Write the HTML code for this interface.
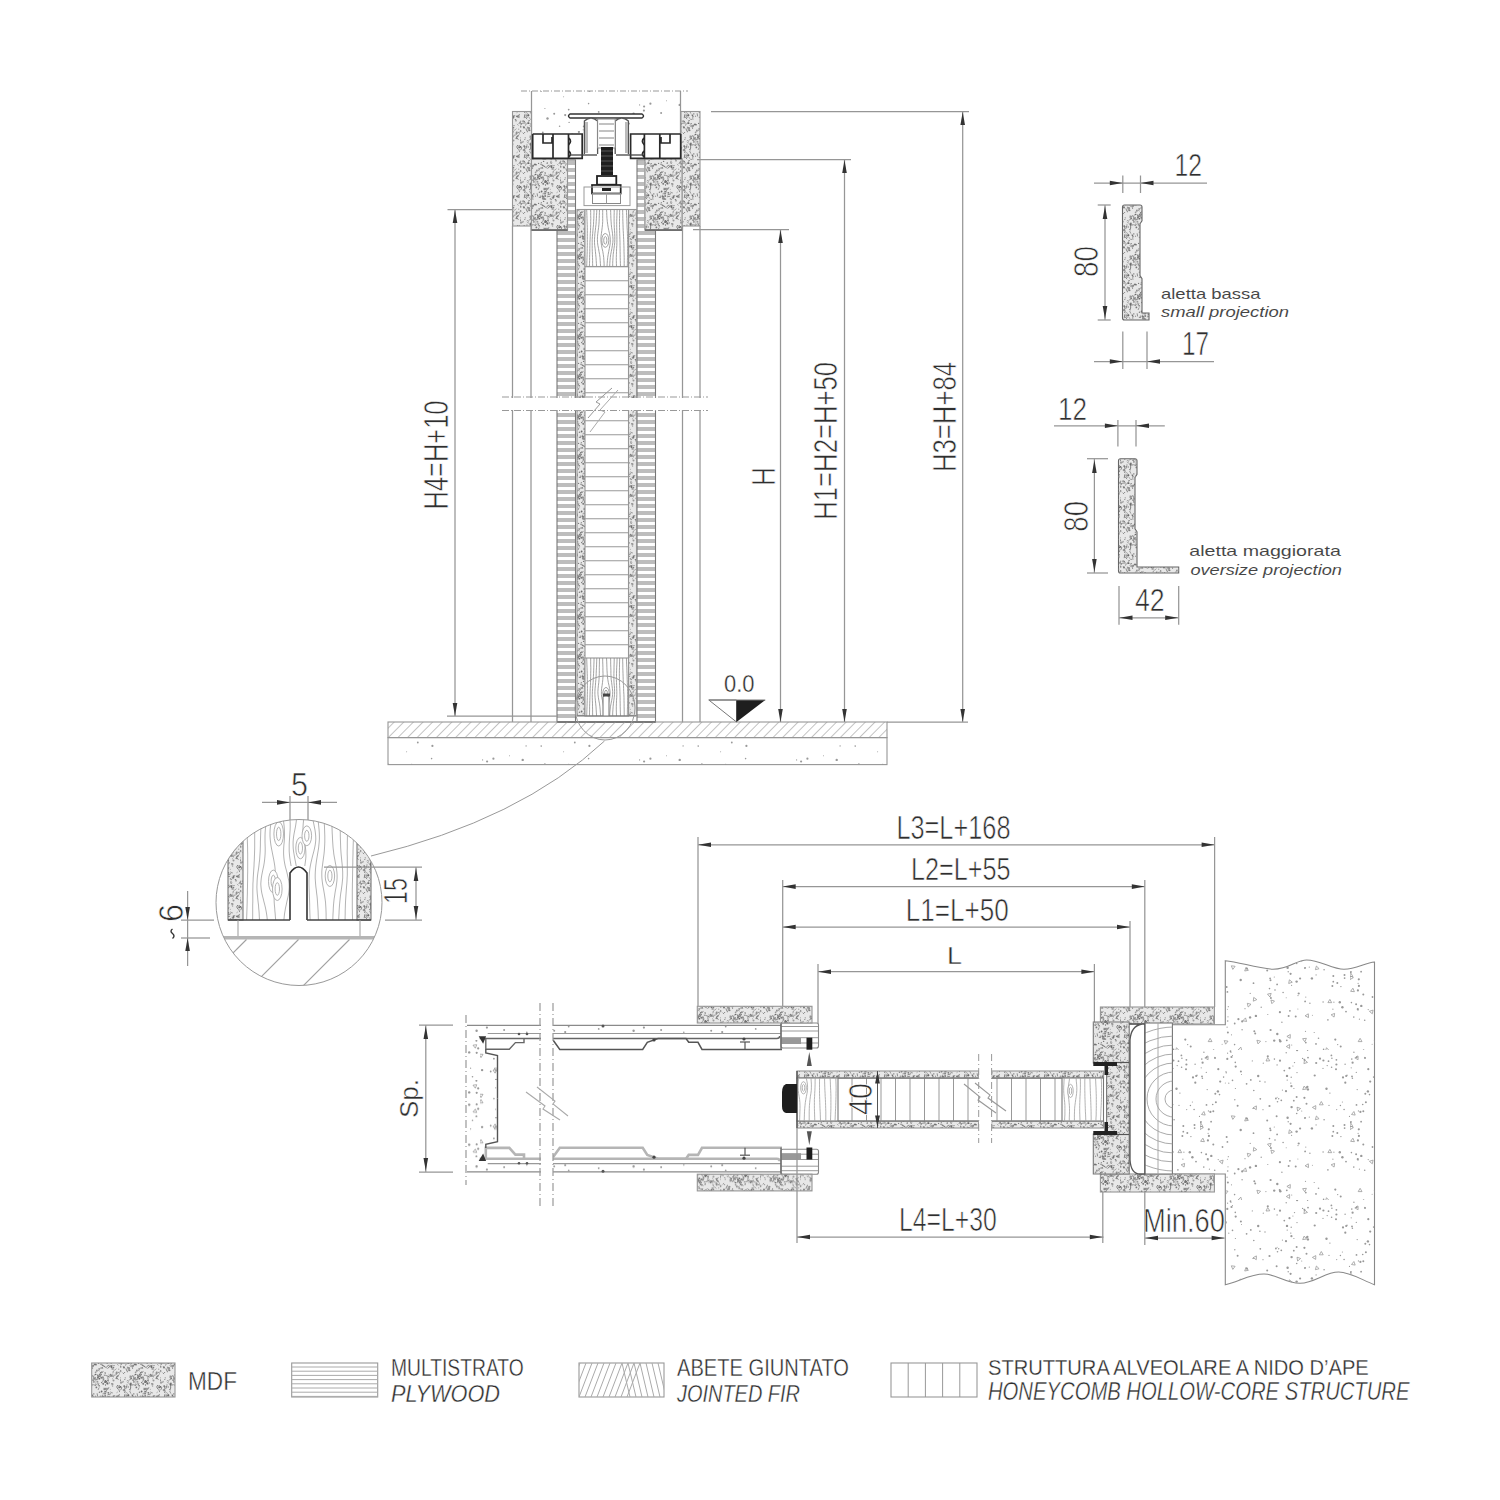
<!DOCTYPE html>
<html><head><meta charset="utf-8"><title>Sliding door technical drawing</title>
<style>html,body{margin:0;padding:0;background:#fff;width:1500px;height:1500px;overflow:hidden}svg{display:block}text{font-family:"Liberation Sans",sans-serif}</style>
</head><body>
<svg width="1500" height="1500" viewBox="0 0 1500 1500" font-family="Liberation Sans, sans-serif">
<defs>
<pattern id="mdf" patternUnits="userSpaceOnUse" width="40" height="40"><line x1="5.4" y1="33.9" x2="7.9" y2="36.2" stroke="#999" stroke-width="0.8"/><circle cx="18.9" cy="15.2" r="0.5" fill="#777"/><line x1="33.4" y1="17.3" x2="32.7" y2="15.3" stroke="#6a6a6a" stroke-width="0.8"/><circle cx="32.1" cy="23.6" r="0.5" fill="#999"/><line x1="1.0" y1="21.7" x2="-0.5" y2="18.0" stroke="#777" stroke-width="0.8"/><line x1="29.0" y1="21.1" x2="26.8" y2="20.3" stroke="#777" stroke-width="0.8"/><line x1="27.1" y1="30.4" x2="23.8" y2="32.3" stroke="#6a6a6a" stroke-width="0.8"/><line x1="36.9" y1="4.0" x2="38.6" y2="5.6" stroke="#999" stroke-width="0.8"/><line x1="28.9" y1="28.4" x2="25.1" y2="28.3" stroke="#777" stroke-width="0.8"/><line x1="7.6" y1="11.4" x2="9.2" y2="9.1" stroke="#777" stroke-width="0.8"/><circle cx="23.6" cy="1.4" r="0.7" fill="#777"/><line x1="6.9" y1="22.0" x2="9.6" y2="23.6" stroke="#999" stroke-width="0.8"/><line x1="4.3" y1="6.5" x2="2.7" y2="6.7" stroke="#999" stroke-width="0.8"/><line x1="1.7" y1="28.1" x2="0.6" y2="26.6" stroke="#777" stroke-width="0.8"/><circle cx="9.1" cy="0.5" r="0.7" fill="#808080"/><circle cx="13.8" cy="33.9" r="0.8" fill="#999"/><circle cx="24.4" cy="29.2" r="0.8" fill="#808080"/><circle cx="22.5" cy="17.0" r="0.8" fill="#999"/><line x1="8.0" y1="20.2" x2="6.7" y2="21.0" stroke="#999" stroke-width="0.8"/><circle cx="21.6" cy="31.5" r="0.9" fill="#6a6a6a"/><circle cx="25.4" cy="22.0" r="0.9" fill="#6a6a6a"/><circle cx="31.9" cy="32.7" r="0.5" fill="#6a6a6a"/><line x1="0.7" y1="0.6" x2="0.3" y2="4.1" stroke="#808080" stroke-width="0.8"/><circle cx="7.4" cy="11.6" r="0.8" fill="#999"/><line x1="6.7" y1="10.9" x2="5.9" y2="8.3" stroke="#777" stroke-width="0.8"/><circle cx="4.6" cy="12.5" r="0.6" fill="#808080"/><line x1="10.1" y1="29.2" x2="10.8" y2="27.8" stroke="#777" stroke-width="0.8"/><line x1="0.7" y1="5.9" x2="-1.9" y2="6.8" stroke="#808080" stroke-width="0.8"/><line x1="17.1" y1="33.3" x2="17.6" y2="36.4" stroke="#777" stroke-width="0.8"/><circle cx="15.8" cy="23.0" r="0.5" fill="#777"/><line x1="11.9" y1="38.7" x2="13.5" y2="39.4" stroke="#999" stroke-width="0.8"/><circle cx="36.7" cy="11.9" r="0.6" fill="#999"/><line x1="22.4" y1="34.0" x2="25.3" y2="33.3" stroke="#808080" stroke-width="0.8"/><line x1="6.9" y1="34.7" x2="5.2" y2="36.4" stroke="#6a6a6a" stroke-width="0.8"/><circle cx="8.2" cy="27.0" r="0.7" fill="#808080"/><line x1="37.5" y1="15.6" x2="35.8" y2="18.9" stroke="#6a6a6a" stroke-width="0.8"/><circle cx="36.0" cy="0.7" r="0.9" fill="#999"/><circle cx="22.5" cy="5.4" r="0.8" fill="#999"/><circle cx="33.5" cy="37.3" r="0.9" fill="#777"/><circle cx="21.3" cy="2.6" r="0.6" fill="#808080"/><line x1="36.4" y1="8.5" x2="34.9" y2="10.3" stroke="#999" stroke-width="0.8"/><line x1="11.6" y1="34.7" x2="13.5" y2="36.9" stroke="#777" stroke-width="0.8"/><circle cx="4.2" cy="1.6" r="0.9" fill="#808080"/><line x1="13.6" y1="24.6" x2="16.2" y2="25.9" stroke="#777" stroke-width="0.8"/><circle cx="22.6" cy="38.1" r="0.8" fill="#999"/><circle cx="37.0" cy="18.3" r="0.9" fill="#6a6a6a"/><circle cx="0.5" cy="26.8" r="0.9" fill="#6a6a6a"/><line x1="31.6" y1="7.5" x2="33.0" y2="9.8" stroke="#777" stroke-width="0.8"/><line x1="27.2" y1="6.4" x2="29.3" y2="5.1" stroke="#777" stroke-width="0.8"/><circle cx="38.8" cy="36.4" r="0.9" fill="#999"/><circle cx="12.6" cy="8.3" r="0.5" fill="#6a6a6a"/><line x1="39.3" y1="11.8" x2="37.4" y2="13.4" stroke="#777" stroke-width="0.8"/><line x1="2.6" y1="12.7" x2="4.1" y2="14.0" stroke="#777" stroke-width="0.8"/><line x1="24.7" y1="39.2" x2="23.6" y2="37.4" stroke="#777" stroke-width="0.8"/><circle cx="21.7" cy="12.3" r="0.9" fill="#6a6a6a"/><circle cx="3.6" cy="30.1" r="1.0" fill="#999"/><circle cx="15.6" cy="12.3" r="0.9" fill="#999"/><circle cx="23.2" cy="36.9" r="0.8" fill="#6a6a6a"/><circle cx="23.2" cy="23.8" r="0.9" fill="#6a6a6a"/><line x1="16.1" y1="10.7" x2="17.6" y2="10.9" stroke="#6a6a6a" stroke-width="0.8"/><line x1="30.0" y1="14.4" x2="32.8" y2="16.4" stroke="#808080" stroke-width="0.8"/><line x1="13.1" y1="20.4" x2="13.8" y2="16.5" stroke="#808080" stroke-width="0.8"/><circle cx="32.9" cy="12.8" r="0.6" fill="#999"/><line x1="8.3" y1="21.8" x2="9.6" y2="19.1" stroke="#999" stroke-width="0.8"/><line x1="26.9" y1="22.1" x2="28.0" y2="24.4" stroke="#808080" stroke-width="0.8"/><line x1="6.3" y1="28.6" x2="6.9" y2="25.4" stroke="#999" stroke-width="0.8"/><circle cx="17.9" cy="17.2" r="0.9" fill="#777"/><circle cx="18.1" cy="15.8" r="0.7" fill="#999"/><line x1="31.7" y1="37.3" x2="33.9" y2="38.2" stroke="#6a6a6a" stroke-width="0.8"/><circle cx="5.5" cy="5.0" r="0.7" fill="#999"/><circle cx="16.0" cy="24.5" r="0.6" fill="#6a6a6a"/><line x1="12.7" y1="35.7" x2="12.9" y2="38.5" stroke="#808080" stroke-width="0.8"/><circle cx="19.2" cy="9.0" r="1.0" fill="#999"/><line x1="8.8" y1="36.9" x2="10.6" y2="39.7" stroke="#999" stroke-width="0.8"/><line x1="35.3" y1="12.5" x2="37.0" y2="15.3" stroke="#999" stroke-width="0.8"/><circle cx="18.6" cy="3.4" r="0.6" fill="#777"/><line x1="10.0" y1="8.7" x2="7.5" y2="8.8" stroke="#6a6a6a" stroke-width="0.8"/><line x1="25.5" y1="15.4" x2="23.8" y2="15.1" stroke="#6a6a6a" stroke-width="0.8"/><line x1="10.2" y1="4.0" x2="12.0" y2="3.6" stroke="#6a6a6a" stroke-width="0.8"/><line x1="31.0" y1="33.7" x2="27.4" y2="35.0" stroke="#6a6a6a" stroke-width="0.8"/><line x1="38.8" y1="15.3" x2="35.8" y2="17.6" stroke="#777" stroke-width="0.8"/><line x1="17.5" y1="24.9" x2="19.7" y2="26.9" stroke="#808080" stroke-width="0.8"/><circle cx="16.3" cy="4.7" r="0.7" fill="#808080"/><line x1="22.4" y1="38.4" x2="26.2" y2="39.1" stroke="#6a6a6a" stroke-width="0.8"/><circle cx="9.7" cy="10.4" r="0.8" fill="#808080"/><circle cx="10.9" cy="23.4" r="0.9" fill="#777"/><line x1="32.3" y1="38.9" x2="30.8" y2="39.8" stroke="#777" stroke-width="0.8"/><circle cx="8.4" cy="35.2" r="1.0" fill="#6a6a6a"/><circle cx="1.0" cy="22.8" r="1.0" fill="#999"/><circle cx="30.4" cy="38.9" r="0.8" fill="#999"/><circle cx="12.5" cy="20.1" r="0.5" fill="#999"/><circle cx="17.7" cy="18.0" r="0.7" fill="#777"/><circle cx="29.2" cy="22.9" r="0.7" fill="#777"/><line x1="22.3" y1="39.8" x2="24.9" y2="39.6" stroke="#808080" stroke-width="0.8"/><line x1="33.4" y1="16.4" x2="32.6" y2="13.9" stroke="#999" stroke-width="0.8"/><line x1="26.8" y1="7.9" x2="23.3" y2="6.0" stroke="#777" stroke-width="0.8"/><line x1="13.4" y1="24.9" x2="10.1" y2="25.0" stroke="#6a6a6a" stroke-width="0.8"/><line x1="25.6" y1="25.9" x2="25.3" y2="24.1" stroke="#777" stroke-width="0.8"/><circle cx="31.2" cy="15.9" r="0.9" fill="#808080"/><circle cx="32.6" cy="24.2" r="0.9" fill="#999"/><circle cx="16.4" cy="27.4" r="0.9" fill="#777"/><circle cx="19.4" cy="18.7" r="0.9" fill="#6a6a6a"/><line x1="16.9" y1="14.2" x2="18.6" y2="17.0" stroke="#6a6a6a" stroke-width="0.8"/><line x1="6.5" y1="3.7" x2="4.9" y2="2.5" stroke="#999" stroke-width="0.8"/><circle cx="8.3" cy="35.4" r="0.8" fill="#6a6a6a"/><line x1="36.4" y1="26.4" x2="37.9" y2="29.1" stroke="#6a6a6a" stroke-width="0.8"/><circle cx="28.5" cy="32.6" r="0.7" fill="#808080"/><circle cx="16.0" cy="19.3" r="0.9" fill="#999"/><circle cx="10.4" cy="24.4" r="0.9" fill="#6a6a6a"/><line x1="34.7" y1="16.1" x2="35.2" y2="14.2" stroke="#808080" stroke-width="0.8"/><line x1="25.0" y1="6.6" x2="21.7" y2="4.8" stroke="#777" stroke-width="0.8"/><line x1="5.9" y1="37.8" x2="7.1" y2="39.2" stroke="#808080" stroke-width="0.8"/><line x1="28.6" y1="14.4" x2="30.1" y2="15.8" stroke="#808080" stroke-width="0.8"/><circle cx="27.3" cy="2.7" r="0.7" fill="#999"/><circle cx="4.0" cy="7.5" r="0.9" fill="#6a6a6a"/><line x1="8.7" y1="1.4" x2="6.7" y2="4.4" stroke="#777" stroke-width="0.8"/><circle cx="4.7" cy="27.7" r="0.6" fill="#777"/><line x1="18.0" y1="30.0" x2="19.1" y2="27.6" stroke="#808080" stroke-width="0.8"/><line x1="23.2" y1="8.5" x2="21.4" y2="8.5" stroke="#999" stroke-width="0.8"/><circle cx="8.6" cy="3.2" r="0.9" fill="#6a6a6a"/><line x1="12.8" y1="15.3" x2="9.8" y2="17.5" stroke="#808080" stroke-width="0.8"/><line x1="30.3" y1="6.1" x2="27.5" y2="8.5" stroke="#6a6a6a" stroke-width="0.8"/><circle cx="21.7" cy="22.6" r="0.7" fill="#6a6a6a"/><circle cx="33.6" cy="36.2" r="0.8" fill="#6a6a6a"/><line x1="5.2" y1="37.3" x2="6.5" y2="38.2" stroke="#777" stroke-width="0.8"/><line x1="25.5" y1="29.8" x2="24.2" y2="27.7" stroke="#808080" stroke-width="0.8"/><line x1="25.2" y1="38.8" x2="25.3" y2="41.8" stroke="#808080" stroke-width="0.8"/><circle cx="31.5" cy="7.0" r="1.0" fill="#6a6a6a"/><line x1="21.9" y1="21.5" x2="23.3" y2="20.7" stroke="#777" stroke-width="0.8"/><line x1="10.7" y1="24.4" x2="10.6" y2="28.4" stroke="#6a6a6a" stroke-width="0.8"/><line x1="6.0" y1="36.7" x2="7.7" y2="37.3" stroke="#6a6a6a" stroke-width="0.8"/><circle cx="32.5" cy="18.8" r="0.5" fill="#999"/><circle cx="21.3" cy="17.7" r="0.9" fill="#777"/><line x1="36.0" y1="17.8" x2="38.9" y2="19.7" stroke="#999" stroke-width="0.8"/><circle cx="3.4" cy="1.4" r="0.7" fill="#999"/><line x1="5.2" y1="31.8" x2="8.2" y2="33.8" stroke="#999" stroke-width="0.8"/><line x1="20.1" y1="8.2" x2="23.0" y2="7.4" stroke="#777" stroke-width="0.8"/><circle cx="4.2" cy="26.1" r="0.9" fill="#6a6a6a"/><circle cx="33.3" cy="11.7" r="0.7" fill="#999"/><circle cx="13.0" cy="16.4" r="0.5" fill="#6a6a6a"/><circle cx="32.6" cy="26.0" r="0.7" fill="#999"/><line x1="10.9" y1="29.9" x2="9.1" y2="29.6" stroke="#6a6a6a" stroke-width="0.8"/><circle cx="36.6" cy="13.0" r="0.7" fill="#6a6a6a"/><circle cx="11.2" cy="18.2" r="0.9" fill="#777"/><line x1="37.0" y1="36.9" x2="39.6" y2="37.7" stroke="#808080" stroke-width="0.8"/><circle cx="34.1" cy="10.1" r="0.7" fill="#999"/><circle cx="37.7" cy="25.7" r="0.8" fill="#777"/><circle cx="13.6" cy="20.3" r="0.8" fill="#999"/><circle cx="22.5" cy="36.3" r="1.0" fill="#777"/><line x1="24.8" y1="32.5" x2="24.3" y2="30.5" stroke="#999" stroke-width="0.8"/><line x1="2.7" y1="22.8" x2="3.2" y2="20.9" stroke="#6a6a6a" stroke-width="0.8"/><circle cx="33.5" cy="20.5" r="1.0" fill="#999"/><circle cx="19.5" cy="32.3" r="0.8" fill="#808080"/><circle cx="34.6" cy="35.7" r="0.8" fill="#999"/><line x1="37.8" y1="31.9" x2="36.5" y2="32.8" stroke="#999" stroke-width="0.8"/><line x1="21.3" y1="15.2" x2="18.2" y2="17.3" stroke="#6a6a6a" stroke-width="0.8"/><circle cx="31.8" cy="23.4" r="0.5" fill="#777"/><line x1="38.4" y1="27.8" x2="39.6" y2="25.3" stroke="#6a6a6a" stroke-width="0.8"/><line x1="39.8" y1="12.6" x2="36.9" y2="12.2" stroke="#999" stroke-width="0.8"/><circle cx="32.7" cy="38.1" r="0.7" fill="#999"/><circle cx="5.2" cy="17.8" r="0.6" fill="#808080"/><line x1="0.4" y1="17.0" x2="-1.3" y2="18.8" stroke="#6a6a6a" stroke-width="0.8"/><line x1="37.5" y1="35.8" x2="40.7" y2="34.2" stroke="#6a6a6a" stroke-width="0.8"/><line x1="15.3" y1="18.6" x2="12.9" y2="15.8" stroke="#999" stroke-width="0.8"/><line x1="30.7" y1="15.5" x2="29.2" y2="17.6" stroke="#777" stroke-width="0.8"/><circle cx="0.7" cy="6.9" r="0.8" fill="#808080"/><circle cx="11.5" cy="39.9" r="0.9" fill="#999"/><line x1="27.7" y1="17.3" x2="28.4" y2="20.8" stroke="#777" stroke-width="0.8"/><circle cx="38.0" cy="16.1" r="0.6" fill="#6a6a6a"/><circle cx="38.7" cy="9.2" r="0.6" fill="#999"/><line x1="31.0" y1="4.0" x2="31.9" y2="2.5" stroke="#808080" stroke-width="0.8"/><line x1="24.5" y1="39.8" x2="22.3" y2="43.0" stroke="#777" stroke-width="0.8"/><line x1="38.8" y1="4.1" x2="40.5" y2="1.2" stroke="#777" stroke-width="0.8"/><circle cx="39.8" cy="27.4" r="0.9" fill="#6a6a6a"/><circle cx="27.1" cy="3.5" r="0.6" fill="#777"/><circle cx="20.3" cy="36.2" r="0.6" fill="#777"/><circle cx="15.5" cy="36.2" r="0.7" fill="#999"/><circle cx="35.5" cy="39.7" r="0.8" fill="#777"/><line x1="32.4" y1="36.5" x2="33.5" y2="35.2" stroke="#999" stroke-width="0.8"/><circle cx="30.3" cy="29.2" r="0.5" fill="#999"/><line x1="25.0" y1="12.0" x2="25.3" y2="14.2" stroke="#6a6a6a" stroke-width="0.8"/><circle cx="28.3" cy="16.5" r="0.7" fill="#808080"/><circle cx="25.2" cy="36.1" r="1.0" fill="#808080"/><circle cx="10.8" cy="19.2" r="0.6" fill="#777"/><circle cx="14.7" cy="18.8" r="0.9" fill="#808080"/><circle cx="23.2" cy="18.0" r="0.8" fill="#999"/><line x1="5.4" y1="30.5" x2="4.3" y2="33.0" stroke="#808080" stroke-width="0.8"/><circle cx="13.2" cy="5.1" r="0.6" fill="#999"/><circle cx="25.4" cy="33.2" r="0.8" fill="#808080"/><line x1="9.0" y1="8.0" x2="7.7" y2="8.7" stroke="#999" stroke-width="0.8"/><line x1="0.8" y1="12.2" x2="0.7" y2="10.0" stroke="#6a6a6a" stroke-width="0.8"/><circle cx="25.0" cy="34.4" r="0.5" fill="#777"/><circle cx="13.2" cy="5.6" r="0.8" fill="#808080"/><line x1="1.6" y1="3.1" x2="1.0" y2="5.1" stroke="#6a6a6a" stroke-width="0.8"/><circle cx="21.2" cy="14.5" r="0.7" fill="#777"/><circle cx="28.8" cy="27.7" r="0.6" fill="#999"/><line x1="20.6" y1="12.9" x2="23.7" y2="11.3" stroke="#999" stroke-width="0.8"/><line x1="29.0" y1="5.0" x2="26.3" y2="6.8" stroke="#999" stroke-width="0.8"/><line x1="24.8" y1="21.1" x2="24.2" y2="23.1" stroke="#777" stroke-width="0.8"/><line x1="12.1" y1="5.3" x2="13.0" y2="7.1" stroke="#6a6a6a" stroke-width="0.8"/><circle cx="17.4" cy="21.8" r="1.0" fill="#999"/><line x1="10.5" y1="5.0" x2="14.0" y2="6.7" stroke="#999" stroke-width="0.8"/><line x1="14.5" y1="22.2" x2="12.6" y2="20.4" stroke="#6a6a6a" stroke-width="0.8"/><line x1="5.3" y1="3.0" x2="1.8" y2="3.3" stroke="#808080" stroke-width="0.8"/><circle cx="30.7" cy="14.6" r="0.9" fill="#808080"/><circle cx="15.3" cy="17.6" r="0.6" fill="#808080"/><line x1="26.7" y1="32.0" x2="25.2" y2="31.6" stroke="#6a6a6a" stroke-width="0.8"/><line x1="32.6" y1="5.3" x2="29.3" y2="6.2" stroke="#6a6a6a" stroke-width="0.8"/><line x1="23.9" y1="16.9" x2="21.7" y2="18.4" stroke="#777" stroke-width="0.8"/><line x1="4.0" y1="31.2" x2="5.3" y2="27.9" stroke="#6a6a6a" stroke-width="0.8"/><line x1="23.5" y1="21.2" x2="24.1" y2="18.4" stroke="#999" stroke-width="0.8"/><line x1="38.7" y1="14.3" x2="41.5" y2="12.9" stroke="#808080" stroke-width="0.8"/><line x1="4.2" y1="38.1" x2="4.8" y2="34.3" stroke="#6a6a6a" stroke-width="0.8"/><circle cx="12.5" cy="35.2" r="0.8" fill="#6a6a6a"/><line x1="16.6" y1="14.3" x2="13.6" y2="15.5" stroke="#999" stroke-width="0.8"/><circle cx="25.4" cy="20.8" r="0.9" fill="#6a6a6a"/><line x1="6.9" y1="25.7" x2="7.0" y2="23.9" stroke="#999" stroke-width="0.8"/><circle cx="23.3" cy="19.2" r="0.7" fill="#808080"/><line x1="9.1" y1="9.9" x2="7.2" y2="7.1" stroke="#999" stroke-width="0.8"/><line x1="18.5" y1="18.8" x2="16.2" y2="19.9" stroke="#808080" stroke-width="0.8"/><circle cx="4.8" cy="19.5" r="0.6" fill="#808080"/><circle cx="15.0" cy="4.4" r="1.0" fill="#6a6a6a"/><line x1="18.4" y1="15.1" x2="20.0" y2="14.1" stroke="#999" stroke-width="0.8"/><circle cx="21.0" cy="4.2" r="0.7" fill="#777"/><line x1="25.4" y1="29.4" x2="28.2" y2="29.3" stroke="#777" stroke-width="0.8"/><circle cx="10.0" cy="16.9" r="0.7" fill="#808080"/><line x1="9.6" y1="31.0" x2="10.9" y2="33.6" stroke="#808080" stroke-width="0.8"/><line x1="20.5" y1="17.1" x2="19.5" y2="14.0" stroke="#808080" stroke-width="0.8"/><circle cx="26.1" cy="21.5" r="0.6" fill="#777"/><line x1="25.8" y1="15.5" x2="28.4" y2="16.3" stroke="#777" stroke-width="0.8"/><line x1="31.1" y1="0.8" x2="30.7" y2="3.3" stroke="#777" stroke-width="0.8"/><line x1="23.8" y1="39.4" x2="24.2" y2="36.4" stroke="#999" stroke-width="0.8"/><line x1="39.7" y1="32.1" x2="38.6" y2="28.8" stroke="#777" stroke-width="0.8"/><line x1="19.8" y1="11.1" x2="16.5" y2="9.7" stroke="#999" stroke-width="0.8"/><line x1="31.2" y1="24.9" x2="33.2" y2="23.9" stroke="#999" stroke-width="0.8"/><line x1="10.1" y1="15.4" x2="11.2" y2="16.8" stroke="#6a6a6a" stroke-width="0.8"/><line x1="10.1" y1="7.9" x2="6.9" y2="7.0" stroke="#808080" stroke-width="0.8"/><line x1="9.6" y1="5.6" x2="12.9" y2="7.5" stroke="#808080" stroke-width="0.8"/><circle cx="6.1" cy="26.7" r="0.7" fill="#777"/><circle cx="27.3" cy="23.6" r="1.0" fill="#6a6a6a"/><circle cx="34.0" cy="5.6" r="0.7" fill="#777"/><line x1="33.5" y1="9.0" x2="31.3" y2="9.1" stroke="#999" stroke-width="0.8"/><line x1="20.6" y1="12.0" x2="19.7" y2="15.4" stroke="#6a6a6a" stroke-width="0.8"/><line x1="23.7" y1="24.6" x2="22.5" y2="23.5" stroke="#999" stroke-width="0.8"/><circle cx="31.3" cy="6.4" r="0.6" fill="#6a6a6a"/><line x1="17.4" y1="23.5" x2="20.1" y2="26.1" stroke="#777" stroke-width="0.8"/><circle cx="28.3" cy="32.8" r="0.9" fill="#808080"/><line x1="23.1" y1="29.0" x2="26.0" y2="28.7" stroke="#808080" stroke-width="0.8"/><circle cx="26.5" cy="21.8" r="0.8" fill="#6a6a6a"/><line x1="26.9" y1="36.9" x2="30.2" y2="36.2" stroke="#777" stroke-width="0.8"/><circle cx="16.8" cy="10.9" r="0.6" fill="#808080"/><line x1="0.6" y1="30.2" x2="1.9" y2="27.6" stroke="#777" stroke-width="0.8"/><circle cx="37.0" cy="36.3" r="0.9" fill="#6a6a6a"/><circle cx="33.4" cy="7.6" r="0.9" fill="#808080"/><circle cx="15.4" cy="14.4" r="0.7" fill="#6a6a6a"/><line x1="2.1" y1="1.8" x2="4.4" y2="-1.3" stroke="#808080" stroke-width="0.8"/><circle cx="18.8" cy="23.3" r="0.5" fill="#777"/><line x1="16.0" y1="20.5" x2="13.0" y2="22.8" stroke="#999" stroke-width="0.8"/><line x1="18.8" y1="37.4" x2="21.1" y2="37.6" stroke="#777" stroke-width="0.8"/><line x1="30.0" y1="31.8" x2="32.7" y2="33.0" stroke="#999" stroke-width="0.8"/></pattern>
<pattern id="conc" patternUnits="userSpaceOnUse" width="157" height="131"><circle cx="31.2" cy="71.3" r="0.9" fill="#999"/><circle cx="82.0" cy="8.6" r="1.1" fill="#999"/><polygon points="31.8,31.1 34.7,28.6 35.4,32.4" fill="none" stroke="#999" stroke-width="0.8"/><circle cx="109.6" cy="62.4" r="0.6" fill="#999"/><circle cx="83.2" cy="113.7" r="1.0" fill="#999"/><circle cx="88.0" cy="8.4" r="0.9" fill="#999"/><circle cx="39.5" cy="4.1" r="0.8" fill="#999"/><circle cx="94.2" cy="115.1" r="1.1" fill="#999"/><circle cx="51.7" cy="104.9" r="1.2" fill="#999"/><circle cx="115.1" cy="12.8" r="0.7" fill="#999"/><circle cx="126.5" cy="57.1" r="0.7" fill="#999"/><circle cx="66.4" cy="50.5" r="0.9" fill="#999"/><circle cx="76.5" cy="118.5" r="1.2" fill="#999"/><circle cx="112.2" cy="129.8" r="0.6" fill="#999"/><circle cx="112.7" cy="126.4" r="0.9" fill="#999"/><circle cx="93.5" cy="27.7" r="0.9" fill="#999"/><circle cx="37.3" cy="8.3" r="1.2" fill="#999"/><circle cx="11.6" cy="104.9" r="0.6" fill="#999"/><circle cx="38.5" cy="100.7" r="0.5" fill="#999"/><circle cx="80.5" cy="5.9" r="0.7" fill="#999"/><circle cx="115.4" cy="128.5" r="1.2" fill="#999"/><circle cx="40.6" cy="10.1" r="0.5" fill="#999"/><circle cx="25.9" cy="53.4" r="0.6" fill="#999"/><circle cx="5.6" cy="113.7" r="1.2" fill="#999"/><circle cx="117.5" cy="49.5" r="0.9" fill="#999"/><circle cx="84.3" cy="78.0" r="0.9" fill="#999"/><circle cx="123.2" cy="66.4" r="1.0" fill="#999"/><polygon points="28.9,39.2 32.5,37.7 32.0,41.5" fill="none" stroke="#999" stroke-width="0.8"/><circle cx="71.8" cy="1.5" r="0.9" fill="#999"/><circle cx="2.6" cy="80.7" r="0.5" fill="#999"/><circle cx="82.2" cy="61.1" r="0.7" fill="#999"/><circle cx="92.6" cy="96.7" r="0.5" fill="#999"/><circle cx="88.6" cy="126.2" r="0.8" fill="#999"/><circle cx="77.6" cy="41.9" r="0.7" fill="#999"/><circle cx="48.4" cy="78.0" r="0.8" fill="#999"/><circle cx="101.2" cy="3.5" r="1.0" fill="#999"/><circle cx="40.6" cy="29.2" r="0.7" fill="#999"/><circle cx="24.5" cy="57.0" r="0.6" fill="#999"/><circle cx="42.2" cy="43.7" r="0.8" fill="#999"/><circle cx="112.1" cy="22.2" r="1.0" fill="#999"/><circle cx="115.9" cy="59.1" r="0.6" fill="#999"/><circle cx="69.4" cy="25.0" r="1.1" fill="#999"/><circle cx="24.0" cy="36.5" r="0.9" fill="#999"/><circle cx="105.6" cy="45.2" r="0.7" fill="#999"/><circle cx="104.0" cy="35.5" r="0.8" fill="#999"/><circle cx="55.0" cy="53.6" r="0.6" fill="#999"/><circle cx="0.6" cy="123.6" r="1.2" fill="#999"/><circle cx="56.9" cy="124.5" r="0.7" fill="#999"/><circle cx="97.7" cy="109.6" r="0.9" fill="#999"/><circle cx="37.9" cy="44.7" r="0.5" fill="#999"/><circle cx="77.1" cy="37.6" r="0.5" fill="#999"/><circle cx="118.4" cy="90.9" r="1.1" fill="#999"/><circle cx="117.9" cy="75.6" r="1.0" fill="#999"/><circle cx="22.5" cy="39.3" r="0.9" fill="#999"/><circle cx="54.2" cy="123.0" r="0.7" fill="#999"/><circle cx="33.1" cy="112.9" r="1.0" fill="#999"/><circle cx="46.1" cy="25.9" r="1.1" fill="#999"/><circle cx="22.4" cy="103.7" r="1.1" fill="#999"/><circle cx="107.9" cy="1.0" r="1.1" fill="#999"/><circle cx="6.5" cy="35.6" r="0.9" fill="#999"/><circle cx="55.4" cy="61.9" r="0.5" fill="#999"/><circle cx="7.2" cy="16.6" r="0.5" fill="#999"/><circle cx="127.7" cy="111.9" r="0.9" fill="#999"/><circle cx="41.4" cy="41.2" r="1.0" fill="#999"/><circle cx="76.8" cy="47.3" r="0.7" fill="#999"/><circle cx="16.2" cy="72.8" r="0.8" fill="#999"/><circle cx="10.5" cy="23.4" r="0.9" fill="#999"/><circle cx="102.5" cy="49.8" r="0.9" fill="#999"/><circle cx="56.5" cy="48.8" r="1.0" fill="#999"/><circle cx="55.1" cy="90.9" r="0.7" fill="#999"/><circle cx="70.2" cy="91.1" r="0.8" fill="#999"/><circle cx="55.8" cy="115.2" r="0.8" fill="#999"/><circle cx="117.6" cy="103.6" r="0.8" fill="#999"/><circle cx="16.1" cy="106.5" r="1.1" fill="#999"/><circle cx="103.8" cy="87.5" r="0.9" fill="#999"/><circle cx="13.5" cy="77.0" r="0.6" fill="#999"/><circle cx="101.4" cy="5.8" r="0.6" fill="#999"/><circle cx="115.3" cy="23.5" r="1.1" fill="#999"/><circle cx="15.9" cy="110.6" r="1.1" fill="#999"/><circle cx="124.8" cy="75.9" r="0.5" fill="#999"/><circle cx="100.5" cy="67.0" r="0.6" fill="#999"/><circle cx="98.1" cy="122.4" r="0.7" fill="#999"/><circle cx="73.9" cy="108.5" r="0.6" fill="#999"/><circle cx="32.7" cy="80.7" r="0.8" fill="#999"/><circle cx="48.1" cy="52.0" r="0.8" fill="#999"/><polygon points="9.0,66.7 10.9,63.3 12.8,66.6" fill="none" stroke="#999" stroke-width="0.8"/><circle cx="97.9" cy="21.0" r="1.0" fill="#999"/><circle cx="88.3" cy="67.7" r="1.0" fill="#999"/><circle cx="117.6" cy="19.6" r="1.0" fill="#999"/><circle cx="120.1" cy="67.8" r="1.0" fill="#999"/></pattern>
<pattern id="wallp" patternUnits="userSpaceOnUse" width="150" height="150"><circle cx="69.5" cy="56.0" r="1.1" fill="#999"/><polygon points="2.9,76.5 -0.9,76.5 0.9,73.2" fill="none" stroke="#999" stroke-width="0.8"/><circle cx="83.1" cy="92.5" r="0.8" fill="#999"/><circle cx="105.5" cy="67.8" r="0.6" fill="#999"/><circle cx="35.7" cy="16.6" r="1.1" fill="#999"/><circle cx="88.6" cy="116.1" r="1.0" fill="#999"/><circle cx="15.3" cy="43.7" r="1.0" fill="#999"/><circle cx="63.3" cy="13.2" r="0.6" fill="#999"/><circle cx="42.2" cy="121.4" r="1.1" fill="#999"/><circle cx="131.9" cy="8.2" r="0.8" fill="#999"/><polygon points="5.2,65.1 1.5,64.5 3.9,61.5" fill="none" stroke="#999" stroke-width="0.8"/><circle cx="89.5" cy="18.2" r="1.1" fill="#999"/><circle cx="30.5" cy="1.2" r="0.9" fill="#999"/><circle cx="2.6" cy="12.7" r="1.1" fill="#999"/><circle cx="63.0" cy="59.7" r="0.6" fill="#999"/><circle cx="87.0" cy="25.9" r="1.2" fill="#999"/><circle cx="8.1" cy="83.3" r="0.6" fill="#999"/><polygon points="41.8,150.8 38.1,149.9 40.8,147.1" fill="none" stroke="#999" stroke-width="0.8"/><circle cx="105.8" cy="142.6" r="0.9" fill="#999"/><circle cx="6.5" cy="54.9" r="0.9" fill="#999"/><circle cx="116.2" cy="13.0" r="1.1" fill="#999"/><circle cx="87.6" cy="67.7" r="1.2" fill="#999"/><circle cx="86.2" cy="2.8" r="0.7" fill="#999"/><circle cx="65.0" cy="32.0" r="0.7" fill="#999"/><circle cx="13.3" cy="94.4" r="1.0" fill="#999"/><circle cx="3.8" cy="117.1" r="0.8" fill="#999"/><circle cx="106.4" cy="37.2" r="0.8" fill="#999"/><circle cx="34.6" cy="144.6" r="0.8" fill="#999"/><circle cx="129.0" cy="55.4" r="0.6" fill="#999"/><circle cx="126.5" cy="38.8" r="1.2" fill="#999"/><polygon points="24.2,140.6 28.0,141.2 25.6,144.2" fill="none" stroke="#999" stroke-width="0.8"/><circle cx="1.8" cy="9.1" r="0.8" fill="#999"/><circle cx="91.7" cy="145.0" r="0.6" fill="#999"/><circle cx="84.3" cy="20.6" r="0.9" fill="#999"/><circle cx="104.4" cy="9.8" r="1.0" fill="#999"/><polygon points="115.7,59.4 112.4,57.4 115.8,55.6" fill="none" stroke="#999" stroke-width="0.8"/><polygon points="105.1,115.8 108.3,113.8 108.5,117.6" fill="none" stroke="#999" stroke-width="0.8"/><circle cx="14.9" cy="7.3" r="0.6" fill="#999"/><circle cx="94.5" cy="12.6" r="0.7" fill="#999"/><circle cx="2.0" cy="26.4" r="0.9" fill="#999"/><circle cx="58.2" cy="26.0" r="1.2" fill="#999"/><circle cx="80.3" cy="141.2" r="1.2" fill="#999"/><circle cx="133.3" cy="81.7" r="0.9" fill="#999"/><circle cx="136.4" cy="9.8" r="0.9" fill="#999"/><circle cx="45.0" cy="108.7" r="0.6" fill="#999"/><circle cx="104.9" cy="68.0" r="0.9" fill="#999"/><circle cx="7.9" cy="90.4" r="1.1" fill="#999"/><circle cx="34.7" cy="123.5" r="0.9" fill="#999"/><circle cx="131.4" cy="5.4" r="0.9" fill="#999"/><circle cx="101.7" cy="61.0" r="0.6" fill="#999"/><circle cx="91.2" cy="27.2" r="0.7" fill="#999"/><circle cx="70.5" cy="80.3" r="1.0" fill="#999"/><circle cx="50.1" cy="117.4" r="1.2" fill="#999"/><polygon points="89.6,144.5 89.6,148.4 86.3,146.5" fill="none" stroke="#999" stroke-width="0.8"/><circle cx="15.9" cy="52.3" r="1.0" fill="#999"/><circle cx="28.8" cy="33.2" r="0.6" fill="#999"/><circle cx="140.7" cy="146.4" r="1.0" fill="#999"/><circle cx="70.1" cy="78.3" r="0.9" fill="#999"/><circle cx="35.4" cy="38.5" r="0.6" fill="#999"/><circle cx="65.9" cy="141.6" r="0.6" fill="#999"/><circle cx="120.0" cy="8.7" r="1.1" fill="#999"/><circle cx="90.8" cy="33.1" r="0.7" fill="#999"/><polygon points="45.5,117.9 46.6,121.5 42.9,120.7" fill="none" stroke="#999" stroke-width="0.8"/><circle cx="135.3" cy="139.6" r="1.1" fill="#999"/><circle cx="145.1" cy="14.2" r="0.7" fill="#999"/><circle cx="90.6" cy="73.8" r="1.1" fill="#999"/><circle cx="59.9" cy="31.3" r="0.8" fill="#999"/><circle cx="91.6" cy="85.3" r="0.6" fill="#999"/><circle cx="60.3" cy="48.8" r="0.9" fill="#999"/><circle cx="28.3" cy="106.7" r="0.6" fill="#999"/><circle cx="93.8" cy="50.7" r="0.9" fill="#999"/><circle cx="114.2" cy="132.5" r="0.6" fill="#999"/><circle cx="81.3" cy="50.3" r="0.9" fill="#999"/><circle cx="70.6" cy="130.0" r="1.1" fill="#999"/><circle cx="77.1" cy="14.9" r="0.7" fill="#999"/><circle cx="80.0" cy="10.7" r="1.1" fill="#999"/><circle cx="6.3" cy="22.4" r="0.6" fill="#999"/><circle cx="123.6" cy="149.3" r="0.8" fill="#999"/><circle cx="133.3" cy="75.9" r="1.0" fill="#999"/><circle cx="53.8" cy="40.5" r="0.8" fill="#999"/><circle cx="27.4" cy="91.9" r="0.9" fill="#999"/><circle cx="1.4" cy="102.6" r="0.8" fill="#999"/><polygon points="129.9,99.4 131.7,102.7 127.9,102.6" fill="none" stroke="#999" stroke-width="0.8"/><circle cx="40.9" cy="21.6" r="1.0" fill="#999"/><circle cx="34.8" cy="49.7" r="0.7" fill="#999"/><polygon points="92.3,82.2 88.7,83.5 89.4,79.8" fill="none" stroke="#999" stroke-width="0.8"/><circle cx="28.0" cy="116.8" r="0.6" fill="#999"/><circle cx="20.2" cy="31.6" r="1.1" fill="#999"/><circle cx="32.5" cy="30.4" r="0.8" fill="#999"/><polygon points="126.5,147.7 129.1,150.5 125.4,151.3" fill="none" stroke="#999" stroke-width="0.8"/><circle cx="74.4" cy="9.1" r="0.8" fill="#999"/><polygon points="67.5,94.1 71.2,93.4 69.9,97.0" fill="none" stroke="#999" stroke-width="0.8"/><circle cx="137.7" cy="144.6" r="0.7" fill="#999"/><polygon points="134.1,117.1 131.1,114.8 134.6,113.4" fill="none" stroke="#999" stroke-width="0.8"/><circle cx="79.7" cy="139.9" r="1.0" fill="#999"/><circle cx="146.2" cy="26.0" r="1.1" fill="#999"/><circle cx="87.2" cy="30.1" r="0.7" fill="#999"/><circle cx="19.5" cy="44.6" r="0.8" fill="#999"/><polygon points="119.1,68.7 115.4,69.7 116.4,66.0" fill="none" stroke="#999" stroke-width="0.8"/><circle cx="26.0" cy="21.6" r="0.6" fill="#999"/><circle cx="100.1" cy="78.5" r="1.1" fill="#999"/><circle cx="118.5" cy="138.3" r="0.8" fill="#999"/><circle cx="144.1" cy="59.5" r="0.8" fill="#999"/><circle cx="27.1" cy="127.2" r="0.6" fill="#999"/><circle cx="144.6" cy="78.1" r="0.9" fill="#999"/><circle cx="142.4" cy="52.0" r="0.6" fill="#999"/><circle cx="8.8" cy="79.3" r="1.1" fill="#999"/><circle cx="30.9" cy="2.3" r="0.6" fill="#999"/><circle cx="46.6" cy="33.8" r="0.9" fill="#999"/><circle cx="140.4" cy="55.5" r="0.7" fill="#999"/><circle cx="137.3" cy="82.9" r="1.0" fill="#999"/><circle cx="31.5" cy="7.0" r="1.1" fill="#999"/><circle cx="106.5" cy="53.7" r="1.0" fill="#999"/><circle cx="11.3" cy="105.9" r="1.2" fill="#999"/><circle cx="8.9" cy="85.9" r="1.1" fill="#999"/><polygon points="53.3,101.2 53.7,97.4 56.8,99.6" fill="none" stroke="#999" stroke-width="0.8"/><circle cx="77.3" cy="134.0" r="1.2" fill="#999"/><circle cx="46.9" cy="68.6" r="1.1" fill="#999"/><circle cx="79.9" cy="112.2" r="1.1" fill="#999"/><circle cx="123.1" cy="102.0" r="0.7" fill="#999"/><polygon points="66.0,11.0 67.7,7.6 69.8,10.8" fill="none" stroke="#999" stroke-width="0.8"/><circle cx="143.0" cy="27.4" r="1.1" fill="#999"/><circle cx="96.7" cy="63.5" r="0.8" fill="#999"/><polygon points="60.6,141.2 58.0,143.9 56.9,140.2" fill="none" stroke="#999" stroke-width="0.8"/><circle cx="147.0" cy="25.3" r="0.7" fill="#999"/><circle cx="1.2" cy="17.8" r="0.6" fill="#999"/><circle cx="91.6" cy="57.1" r="1.2" fill="#999"/><circle cx="27.9" cy="132.4" r="1.0" fill="#999"/><polygon points="22.3,113.8 19.4,111.3 23.1,110.1" fill="none" stroke="#999" stroke-width="0.8"/><circle cx="70.9" cy="98.0" r="1.0" fill="#999"/><circle cx="96.6" cy="47.1" r="1.0" fill="#999"/><circle cx="69.5" cy="88.6" r="0.8" fill="#999"/><circle cx="13.3" cy="61.2" r="1.0" fill="#999"/><circle cx="11.1" cy="71.7" r="0.9" fill="#999"/><circle cx="22.5" cy="97.0" r="0.9" fill="#999"/><circle cx="140.9" cy="86.6" r="0.7" fill="#999"/><polygon points="104.6,9.9 107.5,12.4 103.9,13.6" fill="none" stroke="#999" stroke-width="0.8"/><circle cx="114.7" cy="25.5" r="1.1" fill="#999"/><circle cx="76.6" cy="66.3" r="1.0" fill="#999"/><circle cx="55.9" cy="115.9" r="1.2" fill="#999"/><circle cx="104.4" cy="47.8" r="1.1" fill="#999"/><polygon points="51.0,104.3 48.2,107.0 47.3,103.3" fill="none" stroke="#999" stroke-width="0.8"/><circle cx="38.4" cy="119.2" r="1.1" fill="#999"/><circle cx="10.4" cy="61.9" r="1.1" fill="#999"/><circle cx="67.8" cy="6.3" r="1.1" fill="#999"/><circle cx="132.4" cy="86.1" r="1.0" fill="#999"/><circle cx="129.9" cy="43.1" r="0.7" fill="#999"/><circle cx="8.0" cy="110.1" r="0.6" fill="#999"/><circle cx="136.4" cy="14.5" r="1.1" fill="#999"/><circle cx="37.6" cy="55.8" r="1.0" fill="#999"/><circle cx="146.0" cy="111.6" r="0.9" fill="#999"/><circle cx="61.2" cy="107.2" r="0.7" fill="#999"/><polygon points="104.1,36.1 106.5,39.0 102.7,39.6" fill="none" stroke="#999" stroke-width="0.8"/><circle cx="27.6" cy="3.2" r="0.6" fill="#999"/><circle cx="75.0" cy="90.0" r="0.8" fill="#999"/><circle cx="81.9" cy="122.2" r="0.7" fill="#999"/><polygon points="123.2,54.8 119.4,54.8 121.3,51.5" fill="none" stroke="#999" stroke-width="0.8"/><circle cx="12.7" cy="54.5" r="0.8" fill="#999"/><polygon points="35.1,66.3 32.8,69.4 31.3,65.8" fill="none" stroke="#999" stroke-width="0.8"/><circle cx="93.9" cy="38.5" r="0.6" fill="#999"/><circle cx="9.4" cy="119.2" r="0.6" fill="#999"/><circle cx="123.0" cy="18.4" r="0.6" fill="#999"/><circle cx="133.9" cy="102.2" r="0.6" fill="#999"/><circle cx="136.0" cy="19.3" r="1.0" fill="#999"/><circle cx="88.2" cy="71.8" r="0.7" fill="#999"/><circle cx="97.0" cy="22.6" r="0.7" fill="#999"/><circle cx="55.2" cy="133.6" r="1.0" fill="#999"/><circle cx="97.1" cy="0.2" r="1.1" fill="#999"/><circle cx="111.9" cy="78.4" r="1.2" fill="#999"/><circle cx="41.5" cy="24.6" r="0.5" fill="#999"/><circle cx="35.3" cy="12.4" r="0.8" fill="#999"/><circle cx="0.9" cy="72.1" r="1.0" fill="#999"/><circle cx="7.8" cy="109.2" r="1.1" fill="#999"/><circle cx="96.6" cy="81.6" r="1.2" fill="#999"/><circle cx="31.5" cy="134.8" r="0.6" fill="#999"/><circle cx="32.4" cy="5.6" r="0.6" fill="#999"/><circle cx="86.0" cy="41.2" r="1.1" fill="#999"/><circle cx="82.4" cy="40.1" r="0.6" fill="#999"/><circle cx="6.1" cy="104.2" r="1.0" fill="#999"/><polygon points="102.6,138.7 106.4,138.3 104.8,141.8" fill="none" stroke="#999" stroke-width="0.8"/><circle cx="26.6" cy="86.9" r="1.0" fill="#999"/><circle cx="52.3" cy="10.9" r="0.6" fill="#999"/><circle cx="109.9" cy="103.3" r="0.7" fill="#999"/><circle cx="109.3" cy="67.1" r="0.6" fill="#999"/><circle cx="149.5" cy="66.4" r="0.6" fill="#999"/><circle cx="67.2" cy="70.6" r="1.0" fill="#999"/><circle cx="50.2" cy="93.4" r="0.6" fill="#999"/><circle cx="123.4" cy="10.5" r="1.1" fill="#999"/><circle cx="17.9" cy="41.4" r="1.2" fill="#999"/><circle cx="145.3" cy="32.7" r="1.1" fill="#999"/><circle cx="77.1" cy="47.2" r="0.5" fill="#999"/><circle cx="6.7" cy="7.2" r="0.9" fill="#999"/><polygon points="8.2,141.6 10.1,138.3 12.0,141.6" fill="none" stroke="#999" stroke-width="0.8"/><circle cx="54.3" cy="131.3" r="1.0" fill="#999"/><circle cx="27.4" cy="109.3" r="0.5" fill="#999"/><circle cx="7.2" cy="39.6" r="0.7" fill="#999"/><circle cx="136.7" cy="59.6" r="0.6" fill="#999"/><circle cx="8.4" cy="60.9" r="0.6" fill="#999"/><circle cx="77.5" cy="51.7" r="0.8" fill="#999"/><circle cx="23.6" cy="27.1" r="0.8" fill="#999"/><circle cx="53.5" cy="83.2" r="0.9" fill="#999"/><circle cx="142.4" cy="107.3" r="1.2" fill="#999"/><circle cx="2.4" cy="28.2" r="0.8" fill="#999"/><circle cx="53.1" cy="58.4" r="0.7" fill="#999"/><polygon points="74.5,101.0 71.9,103.7 70.9,100.0" fill="none" stroke="#999" stroke-width="0.8"/><polygon points="56.4,55.9 56.3,59.7 53.1,57.7" fill="none" stroke="#999" stroke-width="0.8"/><circle cx="131.6" cy="17.2" r="0.8" fill="#999"/><polygon points="44.7,71.0 46.0,67.4 48.4,70.3" fill="none" stroke="#999" stroke-width="0.8"/><circle cx="75.9" cy="48.5" r="0.9" fill="#999"/><circle cx="27.3" cy="8.9" r="1.1" fill="#999"/><circle cx="50.8" cy="29.9" r="0.9" fill="#999"/><circle cx="86.8" cy="140.3" r="0.9" fill="#999"/><polygon points="90.2,138.3 86.9,136.4 90.3,134.5" fill="none" stroke="#999" stroke-width="0.8"/><circle cx="18.3" cy="19.2" r="1.1" fill="#999"/><circle cx="144.5" cy="75.1" r="1.0" fill="#999"/><polygon points="97.6,61.0 97.0,57.2 100.6,58.5" fill="none" stroke="#999" stroke-width="0.8"/><circle cx="15.0" cy="7.9" r="1.0" fill="#999"/><circle cx="127.9" cy="119.9" r="0.8" fill="#999"/><circle cx="42.1" cy="129.7" r="0.7" fill="#999"/><circle cx="98.0" cy="95.6" r="0.6" fill="#999"/><circle cx="25.3" cy="32.9" r="0.5" fill="#999"/><circle cx="124.1" cy="69.8" r="0.8" fill="#999"/><circle cx="127.2" cy="15.6" r="0.7" fill="#999"/><circle cx="77.1" cy="84.4" r="0.9" fill="#999"/><circle cx="108.0" cy="7.6" r="0.9" fill="#999"/><circle cx="92.9" cy="16.0" r="0.6" fill="#999"/><polygon points="8.1,9.7 4.8,7.9 8.0,5.9" fill="none" stroke="#999" stroke-width="0.8"/><circle cx="102.6" cy="8.4" r="0.7" fill="#999"/><circle cx="89.9" cy="110.8" r="0.9" fill="#999"/><circle cx="107.6" cy="0.3" r="0.7" fill="#999"/><circle cx="67.8" cy="114.5" r="0.6" fill="#999"/><circle cx="78.7" cy="48.7" r="0.7" fill="#999"/><circle cx="3.9" cy="2.2" r="0.7" fill="#999"/><circle cx="107.4" cy="36.9" r="1.1" fill="#999"/><polygon points="2.9,88.2 4.4,91.7 0.6,91.3" fill="none" stroke="#999" stroke-width="0.8"/><circle cx="18.2" cy="109.6" r="0.6" fill="#999"/><circle cx="98.7" cy="93.5" r="1.1" fill="#999"/><circle cx="128.5" cy="11.2" r="0.9" fill="#999"/><polygon points="0.1,79.5 0.1,75.7 3.4,77.6" fill="none" stroke="#999" stroke-width="0.8"/><circle cx="74.2" cy="140.6" r="1.2" fill="#999"/><circle cx="13.6" cy="150.0" r="0.8" fill="#999"/><circle cx="27.7" cy="121.0" r="0.8" fill="#999"/><circle cx="74.3" cy="77.0" r="0.6" fill="#999"/><circle cx="107.9" cy="39.4" r="1.2" fill="#999"/><circle cx="14.7" cy="120.2" r="0.8" fill="#999"/><circle cx="91.4" cy="36.2" r="1.1" fill="#999"/><circle cx="112.4" cy="115.2" r="0.5" fill="#999"/><circle cx="116.0" cy="143.9" r="0.9" fill="#999"/><circle cx="22.1" cy="144.2" r="0.5" fill="#999"/><circle cx="105.1" cy="101.4" r="0.9" fill="#999"/><circle cx="139.8" cy="102.3" r="1.2" fill="#999"/><circle cx="95.7" cy="116.4" r="1.0" fill="#999"/><circle cx="116.1" cy="74.9" r="0.6" fill="#999"/><circle cx="97.9" cy="109.1" r="0.5" fill="#999"/><circle cx="105.8" cy="97.1" r="0.6" fill="#999"/><circle cx="132.9" cy="109.2" r="0.6" fill="#999"/><circle cx="40.7" cy="80.0" r="1.2" fill="#999"/><circle cx="26.2" cy="22.7" r="0.7" fill="#999"/><circle cx="86.2" cy="97.7" r="0.5" fill="#999"/><circle cx="105.5" cy="131.3" r="0.6" fill="#999"/></pattern>
<pattern id="plas" patternUnits="userSpaceOnUse" width="40" height="40"><polygon points="20.3,34.4 19.3,30.7 23.0,31.7" fill="none" stroke="#999" stroke-width="0.8"/><circle cx="30.6" cy="28.2" r="0.6" fill="#999"/><polygon points="1.0,17.6 -0.8,14.2 3.0,14.3" fill="none" stroke="#999" stroke-width="0.8"/><polygon points="22.1,11.9 19.7,14.9 18.4,11.3" fill="none" stroke="#999" stroke-width="0.8"/><circle cx="16.1" cy="39.9" r="1.1" fill="#999"/><polygon points="33.0,5.2 36.7,4.7 35.4,8.2" fill="none" stroke="#999" stroke-width="0.8"/><circle cx="38.2" cy="8.4" r="1.1" fill="#999"/><circle cx="25.6" cy="12.4" r="1.2" fill="#999"/><circle cx="19.0" cy="39.9" r="1.1" fill="#999"/><circle cx="32.5" cy="36.8" r="0.8" fill="#999"/><circle cx="2.1" cy="30.1" r="1.2" fill="#999"/><polygon points="15.1,33.2 13.0,30.0 16.8,29.7" fill="none" stroke="#999" stroke-width="0.8"/><circle cx="22.3" cy="38.3" r="0.8" fill="#999"/><circle cx="10.7" cy="31.5" r="0.9" fill="#999"/><circle cx="22.2" cy="22.1" r="1.0" fill="#999"/><circle cx="36.7" cy="12.8" r="1.1" fill="#999"/><circle cx="23.1" cy="10.9" r="1.0" fill="#999"/><circle cx="13.9" cy="18.7" r="0.9" fill="#999"/><circle cx="29.2" cy="12.4" r="1.2" fill="#999"/><circle cx="36.4" cy="0.8" r="1.0" fill="#999"/><polygon points="14.3,28.1 18.1,28.2 16.0,31.5" fill="none" stroke="#999" stroke-width="0.8"/><circle cx="15.7" cy="7.8" r="0.6" fill="#999"/></pattern>
<pattern id="plyH" patternUnits="userSpaceOnUse" width="20" height="7"><rect x="0" y="0" width="20" height="4" fill="#bdbdbd"/></pattern>
<pattern id="plyL" patternUnits="userSpaceOnUse" width="20" height="4.3"><line x1="0" y1="0.5" x2="20" y2="0.5" stroke="#999" stroke-width="0.9"/></pattern>
<pattern id="hatch" patternUnits="userSpaceOnUse" width="6.8" height="10" patternTransform="rotate(45)"><line x1="0" y1="0" x2="0" y2="10" stroke="#8e8e8e" stroke-width="1.05"/></pattern>
<pattern id="hatchBig" patternUnits="userSpaceOnUse" width="48" height="48" patternTransform="rotate(45)"><line x1="0" y1="0" x2="0" y2="48" stroke="#9a9a9a" stroke-width="1"/></pattern>
<clipPath id="clip11"><rect x="585" y="209.5" width="43.5" height="57"/></clipPath><clipPath id="clip12"><rect x="585" y="658" width="43.5" height="58"/></clipPath><clipPath id="circ"><circle cx="299" cy="902.5" r="83"/></clipPath><clipPath id="clip21"><rect x="243" y="815" width="114" height="105"/></clipPath><clipPath id="clip31"><rect x="797" y="1078" width="41" height="43"/></clipPath><clipPath id="clip32"><rect x="1062" y="1078" width="41.5" height="43"/></clipPath><clipPath id="firend"><rect x="1144.8" y="1023" width="27.6" height="151"/></clipPath><clipPath id="firsw"><rect x="579" y="1363" width="85" height="34"/></clipPath></defs>
<rect x="0" y="0" width="1500" height="1500" fill="#fff"/>
<line x1="521" y1="91" x2="688" y2="91" stroke="#999" stroke-width="1" stroke-dasharray="6,2,1,2"/>
<rect x="531.5" y="91.0" width="149.0" height="43.0" fill="url(#conc)" stroke="none" stroke-width="0" />
<line x1="531.5" y1="91.0" x2="531.5" y2="134.0" stroke="#969696" stroke-width="1.25" />
<line x1="680.5" y1="91.0" x2="680.5" y2="134.0" stroke="#969696" stroke-width="1.25" />
<rect x="512.5" y="111.5" width="19.0" height="114.5" fill="#e8e8e8" stroke="none" stroke-width="0" />
<rect x="512.5" y="111.5" width="19.0" height="114.5" fill="url(#mdf)" stroke="#969696" stroke-width="1.1" />
<rect x="681.0" y="111.5" width="19.0" height="114.5" fill="#e8e8e8" stroke="none" stroke-width="0" />
<rect x="681.0" y="111.5" width="19.0" height="114.5" fill="url(#mdf)" stroke="#969696" stroke-width="1.1" />
<rect x="531.5" y="159.0" width="36.0" height="71.0" fill="#e8e8e8" stroke="none" stroke-width="0" />
<rect x="531.5" y="159.0" width="36.0" height="71.0" fill="url(#mdf)" stroke="#969696" stroke-width="1.1" />
<rect x="645.0" y="159.0" width="37.0" height="71.0" fill="#e8e8e8" stroke="none" stroke-width="0" />
<rect x="645.0" y="159.0" width="37.0" height="71.0" fill="url(#mdf)" stroke="#969696" stroke-width="1.1" />
<line x1="531.5" y1="230.0" x2="567.5" y2="230.0" stroke="#666" stroke-width="1.4" />
<line x1="645.0" y1="230.0" x2="682.0" y2="230.0" stroke="#666" stroke-width="1.4" />
<line x1="512.5" y1="226.0" x2="512.5" y2="722.0" stroke="#969696" stroke-width="1.25" />
<line x1="531.0" y1="226.0" x2="531.0" y2="722.0" stroke="#969696" stroke-width="1.25" />
<line x1="682.5" y1="226.0" x2="682.5" y2="722.0" stroke="#969696" stroke-width="1.25" />
<line x1="700.0" y1="226.0" x2="700.0" y2="722.0" stroke="#969696" stroke-width="1.25" />
<rect x="557.0" y="160.0" width="18.5" height="562.0" fill="url(#plyH)" stroke="#777" stroke-width="1.1" />
<rect x="637.0" y="160.0" width="18.5" height="562.0" fill="url(#plyH)" stroke="#777" stroke-width="1.1" />
<rect x="531.5" y="159.0" width="36.0" height="71.0" fill="#e8e8e8" stroke="none" stroke-width="0" />
<rect x="531.5" y="159.0" width="36.0" height="71.0" fill="url(#mdf)" stroke="none" stroke-width="0" />
<rect x="645.0" y="159.0" width="37.0" height="71.0" fill="#e8e8e8" stroke="none" stroke-width="0" />
<rect x="645.0" y="159.0" width="37.0" height="71.0" fill="url(#mdf)" stroke="none" stroke-width="0" />
<rect x="531.5" y="159.0" width="36.0" height="71.0" fill="none" stroke="#969696" stroke-width="1.1" />
<rect x="645.0" y="159.0" width="37.0" height="71.0" fill="none" stroke="#969696" stroke-width="1.1" />
<line x1="531.5" y1="230.0" x2="567.5" y2="230.0" stroke="#666" stroke-width="1.4" />
<line x1="645.0" y1="230.0" x2="682.0" y2="230.0" stroke="#666" stroke-width="1.4" />
<g fill="#fff" stroke="#2a2a2a" stroke-width="1.7" stroke-linejoin="miter">
<path d="M532.7 134 H543 V143 H552 V137 M553 134 V158.3 M568.5 134 V158.3 M532.7 134 V158.3 H582.2 V134 H532.7"/>
<path d="M568.5 138 q4 3 0 7 M568.5 151 q4 3 0 6" fill="none"/>
<path d="M680.7 134 H670 V143 H661 V137 M659.8 134 V158.3 M644.4 134 V158.3 M680.7 134 V158.3 H630.6 V134 H680.7"/>
<path d="M644.4 138 q-4 3 0 7 M644.4 151 q-4 3 0 6" fill="none"/>
</g>
<path d="M570 114 h72 q3 2 0 4 h-72 q-3 -2 0 -4z" fill="#fff" stroke="#333" stroke-width="1.5"/>
<path d="M584.4 154 V121 q6.6 -6 13.2 0 V154" fill="#fff" stroke="#555" stroke-width="1.3"/>
<path d="M615.2 154 V121 q6.6 -6 13.2 0 V154" fill="#fff" stroke="#555" stroke-width="1.3"/>
<rect x="585" y="122" width="3" height="31" fill="#bbb"/>
<rect x="625" y="122" width="3" height="31" fill="#bbb"/>
<rect x="597.6" y="119" width="17.6" height="29" fill="#fff" stroke="#888" stroke-width="1"/>
<line x1="599.0" y1="124.0" x2="614.0" y2="124.0" stroke="#999" stroke-width="1.2" />
<line x1="599.0" y1="131.0" x2="614.0" y2="131.0" stroke="#999" stroke-width="1.2" />
<line x1="599.0" y1="138.0" x2="614.0" y2="138.0" stroke="#999" stroke-width="1.2" />
<line x1="599.0" y1="145.0" x2="614.0" y2="145.0" stroke="#999" stroke-width="1.2" />
<line x1="570.0" y1="155.0" x2="597.0" y2="155.0" stroke="#444" stroke-width="1.3" />
<line x1="616.0" y1="155.0" x2="643.0" y2="155.0" stroke="#444" stroke-width="1.3" />
<rect x="601" y="147" width="12" height="28" fill="#1e1e1e"/>
<line x1="601.0" y1="151.0" x2="613.0" y2="151.0" stroke="#666" stroke-width="0.8" />
<line x1="601.0" y1="156.0" x2="613.0" y2="156.0" stroke="#666" stroke-width="0.8" />
<line x1="601.0" y1="161.0" x2="613.0" y2="161.0" stroke="#666" stroke-width="0.8" />
<line x1="601.0" y1="166.0" x2="613.0" y2="166.0" stroke="#666" stroke-width="0.8" />
<line x1="601.0" y1="171.0" x2="613.0" y2="171.0" stroke="#666" stroke-width="0.8" />
<rect x="597" y="176" width="19.3" height="8.7" fill="#fff" stroke="#222" stroke-width="1.8"/>
<rect x="592" y="185" width="28.7" height="8.5" fill="#fff" stroke="#222" stroke-width="1.7"/>
<rect x="602" y="188" width="9" height="3" fill="#222"/>
<rect x="584.0" y="187.0" width="46.0" height="18.6" fill="none" stroke="#999" stroke-width="1" />
<rect x="592.5" y="193.5" width="28.0" height="10.0" fill="none" stroke="#888" stroke-width="1" />
<line x1="606.5" y1="193.5" x2="606.5" y2="203.5" stroke="#999" stroke-width="1" />
<rect x="577.0" y="209.5" width="8.0" height="506.0" fill="#e8e8e8" stroke="none" stroke-width="0" />
<rect x="577.0" y="209.5" width="8.0" height="506.0" fill="url(#mdf)" stroke="#969696" stroke-width="1.1" />
<rect x="628.5" y="209.5" width="8.0" height="506.0" fill="#e8e8e8" stroke="none" stroke-width="0" />
<rect x="628.5" y="209.5" width="8.0" height="506.0" fill="url(#mdf)" stroke="#969696" stroke-width="1.1" />
<rect x="585.0" y="209.5" width="43.5" height="57.0" fill="#fff" stroke="#969696" stroke-width="1.1" />
<g clip-path="url(#clip11)"><polyline points="586.7,209.5 586.8,212.5 586.9,215.5 587.0,218.5 587.1,221.5 587.2,224.5 587.3,227.5 587.3,230.5 587.3,233.5 587.3,236.5 587.3,239.5 587.3,242.5 587.3,245.5 587.2,248.5 587.2,251.5 587.1,254.5 587.0,257.5 586.9,260.5 586.8,263.5 586.7,266.5" fill="none" stroke="#8c8c8c" stroke-width="0.8"/><polyline points="590.6,209.5 590.7,212.5 590.7,215.5 590.8,218.5 590.7,221.5 590.7,224.5 590.6,227.5 590.5,230.5 590.3,233.5 590.2,236.5 590.1,239.5 589.9,242.5 589.9,245.5 589.8,248.5 589.8,251.5 589.7,254.5 589.6,257.5 589.6,260.5 589.5,263.5 589.4,266.5" fill="none" stroke="#8c8c8c" stroke-width="0.8"/><polyline points="594.0,209.5 594.0,212.5 593.9,215.5 593.8,218.5 593.6,221.5 593.5,224.5 593.2,227.5 592.9,230.5 592.7,233.5 592.4,236.5 592.2,239.5 592.2,242.5 592.2,245.5 592.2,248.5 592.3,251.5 592.4,254.5 592.5,257.5 592.6,260.5 592.6,263.5 592.7,266.5" fill="none" stroke="#8c8c8c" stroke-width="0.8"/><polyline points="596.8,209.5 596.7,212.5 596.5,215.5 596.4,218.5 596.2,221.5 596.0,224.5 595.6,227.5 595.3,230.5 594.9,233.5 594.7,236.5 594.5,239.5 594.5,242.5 594.7,245.5 595.1,248.5 595.4,251.5 595.7,254.5 596.0,257.5 596.2,260.5 596.4,263.5 596.6,266.5" fill="none" stroke="#8c8c8c" stroke-width="0.8"/><polyline points="599.5,209.5 599.4,212.5 599.3,215.5 599.2,218.5 599.1,221.5 598.9,224.5 598.6,227.5 598.2,230.5 597.8,233.5 597.5,236.5 597.4,239.5 597.5,242.5 597.9,245.5 598.5,248.5 599.0,251.5 599.6,254.5 600.0,257.5 600.2,260.5 600.4,263.5 600.6,266.5" fill="none" stroke="#8c8c8c" stroke-width="0.8"/><polyline points="602.7,209.5 602.7,212.5 602.7,215.5 602.7,218.5 602.7,221.5 602.5,224.5 602.2,227.5 601.8,230.5 601.4,233.5 601.0,236.5 600.9,239.5 601.1,242.5 601.5,245.5 602.1,248.5 602.8,251.5 603.3,254.5 603.7,257.5 603.9,260.5 604.1,263.5 604.1,266.5" fill="none" stroke="#8c8c8c" stroke-width="0.8"/><polyline points="606.5,209.5 606.7,212.5 606.8,215.5 607.0,218.5 607.3,221.5 607.7,224.5 608.2,227.5 608.8,230.5 609.5,233.5 610.0,236.5 610.3,239.5 610.3,242.5 609.9,245.5 609.3,248.5 608.7,251.5 608.2,254.5 607.7,257.5 607.4,260.5 607.2,263.5 607.0,266.5" fill="none" stroke="#8c8c8c" stroke-width="0.8"/><polyline points="610.6,209.5 610.7,212.5 610.8,215.5 610.9,218.5 611.1,221.5 611.3,224.5 611.6,227.5 612.1,230.5 612.5,233.5 612.8,236.5 613.0,239.5 612.8,242.5 612.4,245.5 611.9,248.5 611.3,251.5 610.7,254.5 610.3,257.5 610.0,260.5 609.8,263.5 609.7,266.5" fill="none" stroke="#8c8c8c" stroke-width="0.8"/><polyline points="614.2,209.5 614.2,212.5 614.1,215.5 614.1,218.5 614.1,221.5 614.2,224.5 614.3,227.5 614.5,230.5 614.7,233.5 614.8,236.5 614.8,239.5 614.7,242.5 614.4,245.5 614.0,248.5 613.6,251.5 613.2,254.5 613.0,257.5 612.8,260.5 612.7,263.5 612.7,266.5" fill="none" stroke="#8c8c8c" stroke-width="0.8"/><polyline points="617.1,209.5 617.0,212.5 616.9,215.5 616.8,218.5 616.7,221.5 616.7,224.5 616.7,227.5 616.8,230.5 616.8,233.5 616.9,236.5 616.9,239.5 616.9,242.5 616.8,245.5 616.6,248.5 616.5,251.5 616.4,254.5 616.3,257.5 616.3,260.5 616.4,263.5 616.5,266.5" fill="none" stroke="#8c8c8c" stroke-width="0.8"/><polyline points="619.7,209.5 619.6,212.5 619.6,215.5 619.5,218.5 619.5,221.5 619.5,224.5 619.5,227.5 619.6,230.5 619.7,233.5 619.8,236.5 619.9,239.5 620.0,242.5 620.0,245.5 620.1,248.5 620.1,251.5 620.2,254.5 620.2,257.5 620.3,260.5 620.4,263.5 620.5,266.5" fill="none" stroke="#8c8c8c" stroke-width="0.8"/><polyline points="622.7,209.5 622.7,212.5 622.8,215.5 622.8,218.5 622.9,221.5 623.0,224.5 623.1,227.5 623.2,230.5 623.4,233.5 623.5,236.5 623.7,239.5 623.8,242.5 623.9,245.5 624.0,248.5 624.0,251.5 624.1,254.5 624.2,257.5 624.2,260.5 624.2,263.5 624.2,266.5" fill="none" stroke="#8c8c8c" stroke-width="0.8"/><polyline points="626.4,209.5 626.5,212.5 626.6,215.5 626.8,218.5 626.9,221.5 627.0,224.5 627.1,227.5 627.3,230.5 627.4,233.5 627.5,236.5 627.5,239.5 627.6,242.5 627.6,245.5 627.6,248.5 627.6,251.5 627.6,254.5 627.5,257.5 627.4,260.5 627.4,263.5 627.3,266.5" fill="none" stroke="#8c8c8c" stroke-width="0.8"/><ellipse cx="605.3" cy="240.4" rx="3.5" ry="6.9" fill="#fff" stroke="#8c8c8c" stroke-width="0.8"/><ellipse cx="605.3" cy="240.4" rx="1.6" ry="3.8" fill="none" stroke="#8c8c8c" stroke-width="0.8"/></g>
<rect x="585.0" y="658.0" width="43.5" height="58.0" fill="#fff" stroke="#969696" stroke-width="1.1" />
<g clip-path="url(#clip12)"><polyline points="586.7,658.0 586.8,661.1 586.9,664.1 587.0,667.2 587.1,670.2 587.2,673.3 587.3,676.3 587.3,679.4 587.4,682.4 587.4,685.5 587.4,688.5 587.4,691.6 587.3,694.6 587.3,697.7 587.2,700.7 587.1,703.8 587.0,706.8 586.9,709.9 586.8,712.9 586.7,716.0" fill="none" stroke="#8c8c8c" stroke-width="0.8"/><polyline points="590.7,658.0 590.7,661.1 590.7,664.1 590.8,667.2 590.8,670.2 590.7,673.3 590.7,676.3 590.6,679.4 590.5,682.4 590.4,685.5 590.2,688.5 590.1,691.6 590.0,694.6 589.9,697.7 589.8,700.7 589.7,703.8 589.6,706.8 589.6,709.9 589.5,712.9 589.4,716.0" fill="none" stroke="#8c8c8c" stroke-width="0.8"/><polyline points="594.0,658.0 594.0,661.1 593.9,664.1 593.8,667.2 593.7,670.2 593.6,673.3 593.4,676.3 593.3,679.4 593.1,682.4 592.8,685.5 592.6,688.5 592.4,691.6 592.3,694.6 592.3,697.7 592.4,700.7 592.5,703.8 592.5,706.8 592.6,709.9 592.6,712.9 592.7,716.0" fill="none" stroke="#8c8c8c" stroke-width="0.8"/><polyline points="596.8,658.0 596.7,661.1 596.6,664.1 596.5,667.2 596.3,670.2 596.2,673.3 596.1,676.3 595.9,679.4 595.6,682.4 595.4,685.5 595.1,688.5 594.9,691.6 594.9,694.6 595.1,697.7 595.4,700.7 595.7,703.8 596.0,706.8 596.2,709.9 596.4,712.9 596.6,716.0" fill="none" stroke="#8c8c8c" stroke-width="0.8"/><polyline points="599.5,658.0 599.4,661.1 599.4,664.1 599.3,667.2 599.3,670.2 599.3,673.3 599.2,676.3 599.0,679.4 598.8,682.4 598.4,685.5 598.1,688.5 597.9,691.6 598.0,694.6 598.4,697.7 598.9,700.7 599.5,703.8 599.9,706.8 600.2,709.9 600.4,712.9 600.6,716.0" fill="none" stroke="#8c8c8c" stroke-width="0.8"/><polyline points="602.7,658.0 602.7,661.1 602.8,664.1 602.9,667.2 602.9,670.2 603.0,673.3 603.0,676.3 602.8,679.4 602.5,682.4 602.1,685.5 601.6,688.5 601.4,691.6 601.4,694.6 601.8,697.7 602.5,700.7 603.1,703.8 603.6,706.8 603.9,709.9 604.1,712.9 604.1,716.0" fill="none" stroke="#8c8c8c" stroke-width="0.8"/><polyline points="606.5,658.0 606.7,661.1 606.8,664.1 606.9,667.2 607.0,670.2 607.2,673.3 607.4,676.3 607.8,679.4 608.3,682.4 609.0,685.5 609.6,688.5 610.1,691.6 610.1,694.6 609.7,697.7 609.1,700.7 608.4,703.8 607.9,706.8 607.5,709.9 607.2,712.9 607.0,716.0" fill="none" stroke="#8c8c8c" stroke-width="0.8"/><polyline points="610.6,658.0 610.7,661.1 610.7,664.1 610.8,667.2 610.9,670.2 610.9,673.3 611.0,676.3 611.2,679.4 611.6,682.4 612.0,685.5 612.4,688.5 612.7,691.6 612.6,694.6 612.2,697.7 611.6,700.7 611.0,703.8 610.4,706.8 610.1,709.9 609.8,712.9 609.7,716.0" fill="none" stroke="#8c8c8c" stroke-width="0.8"/><polyline points="614.2,658.0 614.2,661.1 614.1,664.1 614.0,667.2 614.0,670.2 613.9,673.3 613.9,676.3 613.9,679.4 614.0,682.4 614.3,685.5 614.5,688.5 614.6,691.6 614.5,694.6 614.2,697.7 613.8,700.7 613.4,703.8 613.1,706.8 612.9,709.9 612.7,712.9 612.7,716.0" fill="none" stroke="#8c8c8c" stroke-width="0.8"/><polyline points="617.1,658.0 617.0,661.1 616.9,664.1 616.7,667.2 616.6,670.2 616.5,673.3 616.5,676.3 616.4,679.4 616.5,682.4 616.6,685.5 616.7,688.5 616.8,691.6 616.8,694.6 616.7,697.7 616.5,700.7 616.4,703.8 616.3,706.8 616.3,709.9 616.4,712.9 616.5,716.0" fill="none" stroke="#8c8c8c" stroke-width="0.8"/><polyline points="619.7,658.0 619.6,661.1 619.5,664.1 619.5,667.2 619.4,670.2 619.4,673.3 619.4,676.3 619.4,679.4 619.5,682.4 619.6,685.5 619.8,688.5 619.9,691.6 620.0,694.6 620.1,697.7 620.1,700.7 620.2,703.8 620.2,706.8 620.3,709.9 620.4,712.9 620.5,716.0" fill="none" stroke="#8c8c8c" stroke-width="0.8"/><polyline points="622.7,658.0 622.7,661.1 622.8,664.1 622.8,667.2 622.9,670.2 623.0,673.3 623.1,676.3 623.2,679.4 623.3,682.4 623.5,685.5 623.6,688.5 623.7,691.6 623.9,694.6 624.0,697.7 624.0,700.7 624.1,703.8 624.1,706.8 624.2,709.9 624.2,712.9 624.2,716.0" fill="none" stroke="#8c8c8c" stroke-width="0.8"/><polyline points="626.4,658.0 626.5,661.1 626.6,664.1 626.8,667.2 626.9,670.2 627.0,673.3 627.1,676.3 627.2,679.4 627.3,682.4 627.4,685.5 627.5,688.5 627.6,691.6 627.6,694.6 627.6,697.7 627.6,700.7 627.6,703.8 627.5,706.8 627.4,709.9 627.4,712.9 627.3,716.0" fill="none" stroke="#8c8c8c" stroke-width="0.8"/><ellipse cx="606.0" cy="693.4" rx="3.2" ry="5.9" fill="#fff" stroke="#8c8c8c" stroke-width="0.8"/><ellipse cx="606.0" cy="693.4" rx="1.4" ry="3.3" fill="none" stroke="#8c8c8c" stroke-width="0.8"/></g>
<line x1="585.0" y1="266.7" x2="628.5" y2="266.7" stroke="#999" stroke-width="1.1" />
<line x1="585.0" y1="280.7" x2="628.5" y2="280.7" stroke="#999" stroke-width="1.1" />
<line x1="585.0" y1="294.7" x2="628.5" y2="294.7" stroke="#999" stroke-width="1.1" />
<line x1="585.0" y1="308.7" x2="628.5" y2="308.7" stroke="#999" stroke-width="1.1" />
<line x1="585.0" y1="322.7" x2="628.5" y2="322.7" stroke="#999" stroke-width="1.1" />
<line x1="585.0" y1="336.7" x2="628.5" y2="336.7" stroke="#999" stroke-width="1.1" />
<line x1="585.0" y1="350.7" x2="628.5" y2="350.7" stroke="#999" stroke-width="1.1" />
<line x1="585.0" y1="364.7" x2="628.5" y2="364.7" stroke="#999" stroke-width="1.1" />
<line x1="585.0" y1="378.7" x2="628.5" y2="378.7" stroke="#999" stroke-width="1.1" />
<line x1="585.0" y1="392.7" x2="628.5" y2="392.7" stroke="#999" stroke-width="1.1" />
<line x1="585.0" y1="406.7" x2="628.5" y2="406.7" stroke="#999" stroke-width="1.1" />
<line x1="585.0" y1="420.7" x2="628.5" y2="420.7" stroke="#999" stroke-width="1.1" />
<line x1="585.0" y1="434.7" x2="628.5" y2="434.7" stroke="#999" stroke-width="1.1" />
<line x1="585.0" y1="448.7" x2="628.5" y2="448.7" stroke="#999" stroke-width="1.1" />
<line x1="585.0" y1="462.7" x2="628.5" y2="462.7" stroke="#999" stroke-width="1.1" />
<line x1="585.0" y1="476.7" x2="628.5" y2="476.7" stroke="#999" stroke-width="1.1" />
<line x1="585.0" y1="490.7" x2="628.5" y2="490.7" stroke="#999" stroke-width="1.1" />
<line x1="585.0" y1="504.7" x2="628.5" y2="504.7" stroke="#999" stroke-width="1.1" />
<line x1="585.0" y1="518.7" x2="628.5" y2="518.7" stroke="#999" stroke-width="1.1" />
<line x1="585.0" y1="532.7" x2="628.5" y2="532.7" stroke="#999" stroke-width="1.1" />
<line x1="585.0" y1="546.7" x2="628.5" y2="546.7" stroke="#999" stroke-width="1.1" />
<line x1="585.0" y1="560.7" x2="628.5" y2="560.7" stroke="#999" stroke-width="1.1" />
<line x1="585.0" y1="574.7" x2="628.5" y2="574.7" stroke="#999" stroke-width="1.1" />
<line x1="585.0" y1="588.7" x2="628.5" y2="588.7" stroke="#999" stroke-width="1.1" />
<line x1="585.0" y1="602.7" x2="628.5" y2="602.7" stroke="#999" stroke-width="1.1" />
<line x1="585.0" y1="616.7" x2="628.5" y2="616.7" stroke="#999" stroke-width="1.1" />
<line x1="585.0" y1="630.7" x2="628.5" y2="630.7" stroke="#999" stroke-width="1.1" />
<line x1="585.0" y1="644.7" x2="628.5" y2="644.7" stroke="#999" stroke-width="1.1" />
<path d="M603 716 v-19 q3 -4 6 0 v19" fill="#fff" stroke="#888" stroke-width="1.2"/>
<rect x="603" y="693.5" width="7" height="3" fill="#444"/>
<line x1="577.0" y1="716.0" x2="636.5" y2="716.0" stroke="#777" stroke-width="1.2" />
<line x1="557.0" y1="722.0" x2="655.5" y2="722.0" stroke="#555" stroke-width="2" />
<rect x="500.0" y="398.0" width="210.0" height="12.0" fill="#fff" stroke="none" stroke-width="0" />
<line x1="502" y1="397" x2="708" y2="397" stroke="#999" stroke-width="1" stroke-dasharray="7,2,1,2"/>
<line x1="502" y1="410.5" x2="708" y2="410.5" stroke="#999" stroke-width="1" stroke-dasharray="7,2,1,2"/>
<path d="M588 418 L600 404 L596 402 L612 388" fill="none" stroke="#999" stroke-width="1"/>
<path d="M590 432 L605 412 L600 410 L618 390" fill="none" stroke="#aaa" stroke-width="1"/>
<rect x="388.0" y="722.0" width="499.0" height="15.6" fill="url(#hatch)" stroke="#969696" stroke-width="1.1" />
<rect x="388.0" y="737.6" width="499.0" height="27.0" fill="url(#conc)" stroke="#969696" stroke-width="1.1" />
<ellipse cx="605" cy="708" rx="30" ry="32" fill="none" stroke="#999" stroke-width="1"/>
<path d="M371 856 Q 520 820 604.5 741" fill="none" stroke="#999" stroke-width="1"/>
<line x1="447.5" y1="209.5" x2="512.5" y2="209.5" stroke="#969696" stroke-width="1.25" />
<line x1="447.0" y1="716.0" x2="557.0" y2="716.0" stroke="#969696" stroke-width="1.25" />
<line x1="455.0" y1="209.5" x2="455.0" y2="716.0" stroke="#969696" stroke-width="1.25" />
<polygon points="455.0,210.0 452.7,223.0 457.3,223.0" fill="#333"/>
<polygon points="455.0,716.0 452.7,703.0 457.3,703.0" fill="#333"/>
<text transform="translate(447.5,509.5) rotate(-90)" x="0" y="0" font-size="34.9" textLength="109.0" lengthAdjust="spacingAndGlyphs" fill="#2e2e2e" stroke="#fff" stroke-width="0.73">H4=H+10</text>
<line x1="693.0" y1="229.5" x2="789.0" y2="229.5" stroke="#969696" stroke-width="1.25" />
<line x1="780.5" y1="229.5" x2="780.5" y2="722.0" stroke="#969696" stroke-width="1.25" />
<polygon points="780.5,230.0 778.2,243.0 782.8,243.0" fill="#333"/>
<polygon points="780.5,722.0 778.2,709.0 782.8,709.0" fill="#333"/>
<text transform="translate(774.7,486.0) rotate(-90)" x="0" y="0" font-size="33.0" textLength="19.0" lengthAdjust="spacingAndGlyphs" fill="#2e2e2e" stroke="#fff" stroke-width="0.66">H</text>
<line x1="697.0" y1="159.5" x2="851.0" y2="159.5" stroke="#969696" stroke-width="1.25" />
<line x1="844.5" y1="159.5" x2="844.5" y2="722.0" stroke="#969696" stroke-width="1.25" />
<polygon points="844.5,160.0 842.2,173.0 846.8,173.0" fill="#333"/>
<polygon points="844.5,722.0 842.2,709.0 846.8,709.0" fill="#333"/>
<text transform="translate(837.0,519.7) rotate(-90)" x="0" y="0" font-size="32.7" textLength="157.7" lengthAdjust="spacingAndGlyphs" fill="#2e2e2e" stroke="#fff" stroke-width="0.65">H1=H2=H+50</text>
<line x1="711.0" y1="111.5" x2="969.0" y2="111.5" stroke="#969696" stroke-width="1.25" />
<line x1="962.7" y1="111.5" x2="962.7" y2="722.0" stroke="#969696" stroke-width="1.25" />
<polygon points="962.7,112.0 960.4,125.0 965.0,125.0" fill="#333"/>
<polygon points="962.7,722.0 960.4,709.0 965.0,709.0" fill="#333"/>
<text transform="translate(955.8,472.0) rotate(-90)" x="0" y="0" font-size="34.0" textLength="110.0" lengthAdjust="spacingAndGlyphs" fill="#2e2e2e" stroke="#fff" stroke-width="0.70">H3=H+84</text>
<line x1="887.0" y1="722.0" x2="968.0" y2="722.0" stroke="#969696" stroke-width="1.25" />
<polygon points="708.8,700 736.5,700 736.5,722" fill="#fff" stroke="#777" stroke-width="1"/>
<polygon points="736.5,700 765.3,700 736.5,722" fill="#1e1e1e"/>
<line x1="708.8" y1="700.0" x2="765.3" y2="700.0" stroke="#777" stroke-width="1" />
<text x="724.0" y="692.0" font-size="23.3" textLength="30.5" lengthAdjust="spacingAndGlyphs" fill="#2e2e2e" stroke="#fff" stroke-width="0.32"  font-weight="normal">0.0</text>
<text x="1174.5" y="175.5" font-size="31.3" textLength="27.5" lengthAdjust="spacingAndGlyphs" fill="#2e2e2e" stroke="#fff" stroke-width="0.60"  font-weight="normal">12</text>
<line x1="1094.0" y1="183.0" x2="1207.0" y2="183.0" stroke="#969696" stroke-width="1.25" />
<line x1="1122.8" y1="175.5" x2="1122.8" y2="193.0" stroke="#969696" stroke-width="1.25" />
<line x1="1140.5" y1="175.5" x2="1140.5" y2="193.0" stroke="#969696" stroke-width="1.25" />
<polygon points="1122.8,183.0 1109.8,180.7 1109.8,185.3" fill="#333"/>
<polygon points="1140.5,183.0 1153.5,180.7 1153.5,185.3" fill="#333"/>
<path d="M1122.5 207 q0 -2 2 -2 h15.5 q2 0 2 2 v13.8 l-2 3 v51.8 l2 3 V313 H1149 V320 H1124.5 q-2 0 -2 -2 Z" fill="#e8e8e8" stroke="#666" stroke-width="1.1"/>
<path d="M1122.5 207 q0 -2 2 -2 h15.5 q2 0 2 2 v13.8 l-2 3 v51.8 l2 3 V313 H1149 V320 H1124.5 q-2 0 -2 -2 Z" fill="url(#mdf)" stroke="none"/>
<line x1="1105.0" y1="205.0" x2="1105.0" y2="320.0" stroke="#969696" stroke-width="1.25" />
<line x1="1097.7" y1="205.0" x2="1110.7" y2="205.0" stroke="#969696" stroke-width="1.25" />
<line x1="1097.7" y1="320.0" x2="1110.7" y2="320.0" stroke="#969696" stroke-width="1.25" />
<polygon points="1105.0,206.0 1102.7,219.0 1107.3,219.0" fill="#333"/>
<polygon points="1105.0,319.0 1102.7,306.0 1107.3,306.0" fill="#333"/>
<text transform="translate(1097.7,277.0) rotate(-90)" x="0" y="0" font-size="35.3" textLength="31.0" lengthAdjust="spacingAndGlyphs" fill="#2e2e2e" stroke="#fff" stroke-width="0.75">80</text>
<text x="1161.0" y="298.6" font-size="15.5" textLength="99.6" lengthAdjust="spacingAndGlyphs" fill="#444" stroke="#fff" stroke-width="0.05" >aletta bassa</text>
<text x="1161.0" y="317.0" font-size="15.5" textLength="128.0" lengthAdjust="spacingAndGlyphs" fill="#444" stroke="#fff" stroke-width="0.05" font-style="italic">small projection</text>
<text x="1182.0" y="355.0" font-size="32.8" textLength="27.0" lengthAdjust="spacingAndGlyphs" fill="#2e2e2e" stroke="#fff" stroke-width="0.66"  font-weight="normal">17</text>
<line x1="1094.0" y1="361.5" x2="1214.0" y2="361.5" stroke="#969696" stroke-width="1.25" />
<line x1="1122.8" y1="331.5" x2="1122.8" y2="369.0" stroke="#969696" stroke-width="1.25" />
<line x1="1147.0" y1="331.5" x2="1147.0" y2="369.0" stroke="#969696" stroke-width="1.25" />
<polygon points="1122.8,361.5 1109.8,359.2 1109.8,363.8" fill="#333"/>
<polygon points="1147.0,361.5 1160.0,359.2 1160.0,363.8" fill="#333"/>
<text x="1058.0" y="420.0" font-size="31.3" textLength="29.0" lengthAdjust="spacingAndGlyphs" fill="#2e2e2e" stroke="#fff" stroke-width="0.60"  font-weight="normal">12</text>
<line x1="1054.0" y1="425.8" x2="1164.8" y2="425.8" stroke="#969696" stroke-width="1.25" />
<line x1="1117.9" y1="420.0" x2="1117.9" y2="446.5" stroke="#969696" stroke-width="1.25" />
<line x1="1136.0" y1="420.0" x2="1136.0" y2="446.5" stroke="#969696" stroke-width="1.25" />
<polygon points="1117.9,425.8 1104.9,423.5 1104.9,428.1" fill="#333"/>
<polygon points="1136.0,425.8 1149.0,423.5 1149.0,428.1" fill="#333"/>
<path d="M1118.5 460.7 q0 -2 2 -2 h14.5 q2 0 2 2 v13.7 l-2 3 v51.4 l2 3 V567 H1178.7 V573 H1120.5 q-2 0 -2 -2 Z" fill="#e8e8e8" stroke="#666" stroke-width="1.1"/>
<path d="M1118.5 460.7 q0 -2 2 -2 h14.5 q2 0 2 2 v13.7 l-2 3 v51.4 l2 3 V567 H1178.7 V573 H1120.5 q-2 0 -2 -2 Z" fill="url(#mdf)" stroke="none"/>
<line x1="1094.4" y1="458.7" x2="1094.4" y2="573.0" stroke="#969696" stroke-width="1.25" />
<line x1="1087.0" y1="458.7" x2="1108.0" y2="458.7" stroke="#969696" stroke-width="1.25" />
<line x1="1087.0" y1="573.0" x2="1108.0" y2="573.0" stroke="#969696" stroke-width="1.25" />
<polygon points="1094.4,460.0 1092.1,473.0 1096.7,473.0" fill="#333"/>
<polygon points="1094.4,572.0 1092.1,559.0 1096.7,559.0" fill="#333"/>
<text transform="translate(1088.0,531.7) rotate(-90)" x="0" y="0" font-size="35.6" textLength="30.7" lengthAdjust="spacingAndGlyphs" fill="#2e2e2e" stroke="#fff" stroke-width="0.76">80</text>
<text x="1189.3" y="556.4" font-size="15.5" textLength="151.5" lengthAdjust="spacingAndGlyphs" fill="#444" stroke="#fff" stroke-width="0.05" >aletta maggiorata</text>
<text x="1190.4" y="575.0" font-size="15.5" textLength="151.5" lengthAdjust="spacingAndGlyphs" fill="#444" stroke="#fff" stroke-width="0.05" font-style="italic">oversize projection</text>
<text x="1135.0" y="610.8" font-size="31.0" textLength="29.7" lengthAdjust="spacingAndGlyphs" fill="#2e2e2e" stroke="#fff" stroke-width="0.59"  font-weight="normal">42</text>
<line x1="1119.0" y1="617.8" x2="1178.7" y2="617.8" stroke="#969696" stroke-width="1.25" />
<line x1="1119.0" y1="586.0" x2="1119.0" y2="624.7" stroke="#969696" stroke-width="1.25" />
<line x1="1178.7" y1="586.0" x2="1178.7" y2="624.7" stroke="#969696" stroke-width="1.25" />
<polygon points="1119.5,617.8 1132.5,615.5 1132.5,620.1" fill="#333"/>
<polygon points="1178.2,617.8 1165.2,615.5 1165.2,620.1" fill="#333"/>
<g clip-path="url(#circ)">
<rect x="228.0" y="815.0" width="143.0" height="105.0" fill="#fff" stroke="none" stroke-width="0" />
<g clip-path="url(#clip21)"><polyline points="246.5,815.0 246.7,818.0 246.8,821.0 246.9,824.0 247.0,827.0 247.1,830.0 247.2,833.0 247.3,836.0 247.3,839.0 247.4,842.0 247.5,845.0 247.6,848.0 247.6,851.0 247.7,854.0 247.7,857.0 247.7,860.0 247.7,863.0 247.7,866.0 247.7,869.0 247.7,872.0 247.6,875.0 247.6,878.0 247.6,881.0 247.5,884.0 247.5,887.0 247.4,890.0 247.4,893.0 247.3,896.0 247.2,899.0 247.2,902.0 247.1,905.0 247.0,908.0 246.9,911.0 246.8,914.0 246.7,917.0 246.6,920.0" fill="none" stroke="#a0a0a0" stroke-width="0.8"/><polyline points="254.6,815.0 254.7,818.0 254.7,821.0 254.7,824.0 254.7,827.0 254.7,830.0 254.7,833.0 254.7,836.0 254.7,839.0 254.7,842.0 254.7,845.0 254.7,848.0 254.6,851.0 254.5,854.0 254.4,857.0 254.3,860.0 254.1,863.0 254.0,866.0 253.8,869.0 253.6,872.0 253.4,875.0 253.2,878.0 253.1,881.0 252.9,884.0 252.9,887.0 252.8,890.0 252.8,893.0 252.8,896.0 252.8,899.0 252.8,902.0 252.7,905.0 252.7,908.0 252.7,911.0 252.7,914.0 252.7,917.0 252.6,920.0" fill="none" stroke="#a0a0a0" stroke-width="0.8"/><polyline points="261.5,815.0 261.4,818.0 261.2,821.0 261.1,824.0 260.9,827.0 260.8,830.0 260.7,833.0 260.6,836.0 260.5,839.0 260.4,842.0 260.4,845.0 260.3,848.0 260.2,851.0 260.0,854.0 259.8,857.0 259.6,860.0 259.2,863.0 258.9,866.0 258.5,869.0 258.0,872.0 257.6,875.0 257.3,878.0 257.1,881.0 257.0,884.0 256.9,887.0 257.0,890.0 257.2,893.0 257.5,896.0 257.8,899.0 258.1,902.0 258.5,905.0 258.7,908.0 259.0,911.0 259.2,914.0 259.3,917.0 259.5,920.0" fill="none" stroke="#a0a0a0" stroke-width="0.8"/><polyline points="267.0,815.0 266.6,818.0 266.3,821.0 265.9,824.0 265.6,827.0 265.3,830.0 265.1,833.0 265.0,836.0 265.0,839.0 265.0,842.0 265.1,845.0 265.2,848.0 265.2,851.0 265.1,854.0 264.9,857.0 264.6,860.0 264.2,863.0 263.7,866.0 263.0,869.0 262.4,872.0 261.8,875.0 261.3,878.0 261.0,881.0 260.8,884.0 261.0,887.0 261.3,890.0 261.8,893.0 262.5,896.0 263.3,899.0 264.0,902.0 264.8,905.0 265.5,908.0 266.1,911.0 266.6,914.0 267.0,917.0 267.3,920.0" fill="none" stroke="#a0a0a0" stroke-width="0.8"/><polyline points="272.3,815.0 271.8,818.0 271.3,821.0 270.8,824.0 270.4,827.0 270.1,830.0 270.0,833.0 270.0,836.0 270.2,839.0 270.5,842.0 270.9,845.0 271.4,848.0 272.0,851.0 272.6,854.0 273.2,857.0 273.8,860.0 274.3,863.0 274.8,866.0 275.1,869.0 275.3,872.0 275.4,875.0 275.3,878.0 275.2,881.0 274.9,884.0 274.7,887.0 274.4,890.0 274.2,893.0 274.1,896.0 274.1,899.0 274.2,902.0 274.4,905.0 274.7,908.0 274.9,911.0 275.2,914.0 275.4,917.0 275.7,920.0" fill="none" stroke="#a0a0a0" stroke-width="0.8"/><polyline points="282.7,815.0 283.1,818.0 283.5,821.0 283.9,824.0 284.2,827.0 284.4,830.0 284.5,833.0 284.5,836.0 284.4,839.0 284.2,842.0 283.9,845.0 283.7,848.0 283.6,851.0 283.6,854.0 283.8,857.0 284.1,860.0 284.6,863.0 285.2,866.0 286.0,869.0 286.8,872.0 287.5,875.0 288.2,878.0 288.8,881.0 289.1,884.0 289.2,887.0 289.0,890.0 288.7,893.0 288.2,896.0 287.5,899.0 286.8,902.0 286.2,905.0 285.5,908.0 285.0,911.0 284.5,914.0 284.2,917.0 283.9,920.0" fill="none" stroke="#a0a0a0" stroke-width="0.8"/><polyline points="289.7,815.0 289.9,818.0 290.1,821.0 290.2,824.0 290.2,827.0 290.1,830.0 289.9,833.0 289.7,836.0 289.5,839.0 289.3,842.0 289.2,845.0 289.2,848.0 289.2,851.0 289.4,854.0 289.7,857.0 290.1,860.0 290.6,863.0 291.1,866.0 291.6,869.0 292.2,872.0 292.6,875.0 293.0,878.0 293.3,881.0 293.5,884.0 293.5,887.0 293.4,890.0 293.2,893.0 292.9,896.0 292.5,899.0 292.0,902.0 291.6,905.0 291.2,908.0 290.8,911.0 290.5,914.0 290.2,917.0 290.0,920.0" fill="none" stroke="#a0a0a0" stroke-width="0.8"/><polyline points="296.9,815.0 296.6,818.0 296.3,821.0 295.9,824.0 295.4,827.0 294.8,830.0 294.2,833.0 293.7,836.0 293.3,839.0 293.1,842.0 293.1,845.0 293.2,848.0 293.5,851.0 294.0,854.0 294.5,857.0 295.1,860.0 295.7,863.0 296.2,866.0 296.7,869.0 297.1,872.0 297.4,875.0 297.6,878.0 297.7,881.0 297.7,884.0 297.7,887.0 297.6,890.0 297.4,893.0 297.3,896.0 297.1,899.0 296.8,902.0 296.6,905.0 296.4,908.0 296.2,911.0 296.0,914.0 295.9,917.0 295.7,920.0" fill="none" stroke="#a0a0a0" stroke-width="0.8"/><polyline points="304.1,815.0 303.8,818.0 303.5,821.0 303.2,824.0 303.0,827.0 302.9,830.0 303.0,833.0 303.4,836.0 303.8,839.0 304.4,842.0 305.0,845.0 305.5,848.0 305.8,851.0 305.9,854.0 305.9,857.0 305.6,860.0 305.2,863.0 304.8,866.0 304.4,869.0 304.0,872.0 303.7,875.0 303.4,878.0 303.2,881.0 303.0,884.0 302.9,887.0 302.8,890.0 302.7,893.0 302.7,896.0 302.6,899.0 302.5,902.0 302.5,905.0 302.4,908.0 302.4,911.0 302.4,914.0 302.3,917.0 302.3,920.0" fill="none" stroke="#a0a0a0" stroke-width="0.8"/><polyline points="312.3,815.0 312.7,818.0 313.2,821.0 313.8,824.0 314.4,827.0 315.0,830.0 315.4,833.0 315.7,836.0 315.8,839.0 315.6,842.0 315.2,845.0 314.6,848.0 313.9,851.0 313.1,854.0 312.3,857.0 311.6,860.0 310.9,863.0 310.3,866.0 309.8,869.0 309.5,872.0 309.2,875.0 309.1,878.0 309.0,881.0 309.0,884.0 309.1,887.0 309.2,890.0 309.3,893.0 309.4,896.0 309.5,899.0 309.6,902.0 309.7,905.0 309.7,908.0 309.8,911.0 309.9,914.0 310.0,917.0 310.1,920.0" fill="none" stroke="#a0a0a0" stroke-width="0.8"/><polyline points="317.8,815.0 318.0,818.0 318.2,821.0 318.5,824.0 318.8,827.0 319.1,830.0 319.3,833.0 319.4,836.0 319.4,839.0 319.2,842.0 318.9,845.0 318.6,848.0 318.1,851.0 317.6,854.0 317.1,857.0 316.6,860.0 316.2,863.0 315.8,866.0 315.5,869.0 315.3,872.0 315.2,875.0 315.2,878.0 315.4,881.0 315.6,884.0 315.9,887.0 316.3,890.0 316.6,893.0 317.0,896.0 317.3,899.0 317.5,902.0 317.7,905.0 317.9,908.0 318.1,911.0 318.2,914.0 318.3,917.0 318.4,920.0" fill="none" stroke="#a0a0a0" stroke-width="0.8"/><polyline points="323.9,815.0 324.0,818.0 324.1,821.0 324.3,824.0 324.5,827.0 324.6,830.0 324.7,833.0 324.8,836.0 324.8,839.0 324.8,842.0 324.7,845.0 324.5,848.0 324.3,851.0 324.0,854.0 323.6,857.0 323.2,860.0 322.8,863.0 322.4,866.0 322.0,869.0 321.8,872.0 321.8,875.0 321.9,878.0 322.2,881.0 322.6,884.0 323.1,887.0 323.7,890.0 324.2,893.0 324.7,896.0 325.1,899.0 325.5,902.0 325.7,905.0 325.9,908.0 326.0,911.0 326.1,914.0 326.1,917.0 326.2,920.0" fill="none" stroke="#a0a0a0" stroke-width="0.8"/><polyline points="331.4,815.0 331.6,818.0 331.7,821.0 331.8,824.0 332.0,827.0 332.1,830.0 332.2,833.0 332.4,836.0 332.5,839.0 332.7,842.0 332.9,845.0 333.1,848.0 333.5,851.0 333.8,854.0 334.3,857.0 334.9,860.0 335.4,863.0 336.0,866.0 336.5,869.0 336.9,872.0 337.1,875.0 337.1,878.0 336.9,881.0 336.5,884.0 336.1,887.0 335.5,890.0 335.0,893.0 334.6,896.0 334.1,899.0 333.8,902.0 333.5,905.0 333.3,908.0 333.2,911.0 333.0,914.0 332.9,917.0 332.8,920.0" fill="none" stroke="#a0a0a0" stroke-width="0.8"/><polyline points="339.7,815.0 339.8,818.0 339.9,821.0 340.0,824.0 340.1,827.0 340.2,830.0 340.3,833.0 340.3,836.0 340.4,839.0 340.5,842.0 340.6,845.0 340.7,848.0 340.9,851.0 341.1,854.0 341.4,857.0 341.7,860.0 342.0,863.0 342.3,866.0 342.5,869.0 342.7,872.0 342.7,875.0 342.7,878.0 342.4,881.0 342.1,884.0 341.7,887.0 341.3,890.0 340.8,893.0 340.4,896.0 340.1,899.0 339.8,902.0 339.5,905.0 339.3,908.0 339.1,911.0 339.0,914.0 338.8,917.0 338.7,920.0" fill="none" stroke="#a0a0a0" stroke-width="0.8"/><polyline points="347.6,815.0 347.6,818.0 347.6,821.0 347.6,824.0 347.5,827.0 347.5,830.0 347.5,833.0 347.4,836.0 347.4,839.0 347.3,842.0 347.3,845.0 347.3,848.0 347.2,851.0 347.2,854.0 347.3,857.0 347.3,860.0 347.3,863.0 347.3,866.0 347.3,869.0 347.3,872.0 347.3,875.0 347.1,878.0 347.0,881.0 346.8,884.0 346.5,887.0 346.3,890.0 346.1,893.0 345.9,896.0 345.7,899.0 345.5,902.0 345.4,905.0 345.3,908.0 345.2,911.0 345.2,914.0 345.1,917.0 345.1,920.0" fill="none" stroke="#a0a0a0" stroke-width="0.8"/><polyline points="354.3,815.0 354.2,818.0 354.1,821.0 354.0,824.0 353.9,827.0 353.8,830.0 353.7,833.0 353.6,836.0 353.4,839.0 353.3,842.0 353.2,845.0 353.1,848.0 353.0,851.0 353.0,854.0 352.9,857.0 352.8,860.0 352.8,863.0 352.7,866.0 352.7,869.0 352.6,872.0 352.6,875.0 352.5,878.0 352.5,881.0 352.4,884.0 352.4,887.0 352.3,890.0 352.3,893.0 352.3,896.0 352.3,899.0 352.3,902.0 352.3,905.0 352.3,908.0 352.4,911.0 352.4,914.0 352.5,917.0 352.6,920.0" fill="none" stroke="#a0a0a0" stroke-width="0.8"/><ellipse cx="273.3" cy="881.4" rx="4.8" ry="11.3" fill="#fff" stroke="#a0a0a0" stroke-width="0.8"/><ellipse cx="273.3" cy="881.4" rx="2.2" ry="6.2" fill="none" stroke="#a0a0a0" stroke-width="0.8"/><ellipse cx="277.3" cy="889.0" rx="4.8" ry="11.5" fill="#fff" stroke="#a0a0a0" stroke-width="0.8"/><ellipse cx="277.3" cy="889.0" rx="2.2" ry="6.3" fill="none" stroke="#a0a0a0" stroke-width="0.8"/><ellipse cx="300.4" cy="848.1" rx="4.6" ry="10.7" fill="#fff" stroke="#a0a0a0" stroke-width="0.8"/><ellipse cx="300.4" cy="848.1" rx="2.1" ry="5.9" fill="none" stroke="#a0a0a0" stroke-width="0.8"/><ellipse cx="306.8" cy="835.8" rx="4.8" ry="9.9" fill="#fff" stroke="#a0a0a0" stroke-width="0.8"/><ellipse cx="306.8" cy="835.8" rx="2.2" ry="5.5" fill="none" stroke="#a0a0a0" stroke-width="0.8"/><ellipse cx="278.7" cy="833.9" rx="4.8" ry="12.1" fill="#fff" stroke="#a0a0a0" stroke-width="0.8"/><ellipse cx="278.7" cy="833.9" rx="2.2" ry="6.7" fill="none" stroke="#a0a0a0" stroke-width="0.8"/><ellipse cx="329.9" cy="876.0" rx="4.7" ry="10.5" fill="#fff" stroke="#a0a0a0" stroke-width="0.8"/><ellipse cx="329.9" cy="876.0" rx="2.1" ry="5.8" fill="none" stroke="#a0a0a0" stroke-width="0.8"/></g>
<rect x="228.0" y="815.0" width="15.0" height="105.0" fill="#e8e8e8" stroke="none" stroke-width="0" />
<rect x="228.0" y="815.0" width="15.0" height="105.0" fill="url(#mdf)" stroke="#777" stroke-width="1.1" />
<rect x="357.0" y="815.0" width="14.0" height="105.0" fill="#e8e8e8" stroke="none" stroke-width="0" />
<rect x="357.0" y="815.0" width="14.0" height="105.0" fill="url(#mdf)" stroke="#777" stroke-width="1.1" />
<rect x="289" y="866" width="19" height="60" fill="#fff" stroke="none"/>
<path d="M290 920 V873 q8.5 -12 17 0 V920" fill="#fff" stroke="#333" stroke-width="1.6"/>
<line x1="228.0" y1="920.0" x2="290.0" y2="920.0" stroke="#444" stroke-width="1.6" />
<line x1="307.0" y1="920.0" x2="371.0" y2="920.0" stroke="#444" stroke-width="1.6" />
<line x1="238.0" y1="920.0" x2="238.0" y2="937.0" stroke="#999" stroke-width="1" />
<line x1="360.0" y1="920.0" x2="360.0" y2="937.0" stroke="#999" stroke-width="1" />
<rect x="210.0" y="936.0" width="180.0" height="3.5" fill="#b5b5b5" stroke="none" stroke-width="0" />
<line x1="134.0" y1="1000.0" x2="194.5" y2="939.5" stroke="#a0a0a0" stroke-width="1.1" />
<line x1="186.0" y1="1000.0" x2="246.5" y2="939.5" stroke="#a0a0a0" stroke-width="1.1" />
<line x1="238.0" y1="1000.0" x2="298.5" y2="939.5" stroke="#a0a0a0" stroke-width="1.1" />
<line x1="289.0" y1="1000.0" x2="349.5" y2="939.5" stroke="#a0a0a0" stroke-width="1.1" />
<line x1="340.0" y1="1000.0" x2="400.5" y2="939.5" stroke="#a0a0a0" stroke-width="1.1" />
</g>
<circle cx="299" cy="902.5" r="83" fill="none" stroke="#999" stroke-width="1"/>
<text x="291.0" y="796.0" font-size="33.4" textLength="17.0" lengthAdjust="spacingAndGlyphs" fill="#2e2e2e" stroke="#fff" stroke-width="0.68"  font-weight="normal">5</text>
<line x1="262.0" y1="802.4" x2="337.0" y2="802.4" stroke="#969696" stroke-width="1.25" />
<line x1="290.0" y1="796.0" x2="290.0" y2="820.0" stroke="#969696" stroke-width="1.25" />
<line x1="308.0" y1="796.0" x2="308.0" y2="820.0" stroke="#969696" stroke-width="1.25" />
<polygon points="290.0,802.4 277.0,800.1 277.0,804.7" fill="#333"/>
<polygon points="308.0,802.4 321.0,800.1 321.0,804.7" fill="#333"/>
<line x1="324.0" y1="867.0" x2="422.0" y2="867.0" stroke="#969696" stroke-width="1.25" />
<line x1="385.0" y1="920.0" x2="422.0" y2="920.0" stroke="#969696" stroke-width="1.25" />
<line x1="416.0" y1="867.0" x2="416.0" y2="920.0" stroke="#969696" stroke-width="1.25" />
<polygon points="416.0,868.0 413.7,881.0 418.3,881.0" fill="#333"/>
<polygon points="416.0,919.0 413.7,906.0 418.3,906.0" fill="#333"/>
<text transform="translate(407.0,904.0) rotate(-90)" x="0" y="0" font-size="33.4" textLength="26.0" lengthAdjust="spacingAndGlyphs" fill="#2e2e2e" stroke="#fff" stroke-width="0.68">15</text>
<line x1="181.0" y1="920.0" x2="214.0" y2="920.0" stroke="#969696" stroke-width="1.25" />
<line x1="181.0" y1="938.0" x2="210.0" y2="938.0" stroke="#969696" stroke-width="1.25" />
<line x1="187.6" y1="891.0" x2="187.6" y2="966.0" stroke="#969696" stroke-width="1.25" />
<polygon points="187.6,920.0 185.3,907.0 189.9,907.0" fill="#333"/>
<polygon points="187.6,938.0 185.3,951.0 189.9,951.0" fill="#333"/>
<text transform="translate(183.0,922.0) rotate(-90)" x="0" y="0" font-size="34.9" textLength="18.0" lengthAdjust="spacingAndGlyphs" fill="#2e2e2e" stroke="#fff" stroke-width="0.73">6</text>
<path d="M172.5 929 q-3 2 0 4.5 q3 2.5 0 5" fill="none" stroke="#333" stroke-width="1.4"/>
<line x1="698.0" y1="844.8" x2="1214.6" y2="844.8" stroke="#969696" stroke-width="1.25" />
<polygon points="698.0,844.8 711.0,842.5 711.0,847.1" fill="#333"/>
<polygon points="1214.6,844.8 1201.6,842.5 1201.6,847.1" fill="#333"/>
<text x="896.4" y="839.2" font-size="32.6" textLength="114.1" lengthAdjust="spacingAndGlyphs" fill="#2e2e2e" stroke="#fff" stroke-width="0.65"  font-weight="normal">L3=L+168</text>
<line x1="782.7" y1="886.6" x2="1144.8" y2="886.6" stroke="#969696" stroke-width="1.25" />
<polygon points="782.7,886.6 795.7,884.3 795.7,888.9" fill="#333"/>
<polygon points="1144.8,886.6 1131.8,884.3 1131.8,888.9" fill="#333"/>
<text x="911.0" y="880.0" font-size="32.0" textLength="99.5" lengthAdjust="spacingAndGlyphs" fill="#2e2e2e" stroke="#fff" stroke-width="0.63"  font-weight="normal">L2=L+55</text>
<line x1="782.7" y1="927.0" x2="1130.0" y2="927.0" stroke="#969696" stroke-width="1.25" />
<polygon points="782.7,927.0 795.7,924.7 795.7,929.3" fill="#333"/>
<polygon points="1130.0,927.0 1117.0,924.7 1117.0,929.3" fill="#333"/>
<text x="905.7" y="921.0" font-size="32.0" textLength="103.0" lengthAdjust="spacingAndGlyphs" fill="#2e2e2e" stroke="#fff" stroke-width="0.63"  font-weight="normal">L1=L+50</text>
<line x1="818.0" y1="971.7" x2="1094.4" y2="971.7" stroke="#969696" stroke-width="1.25" />
<polygon points="818.0,971.7 831.0,969.4 831.0,974.0" fill="#333"/>
<polygon points="1094.4,971.7 1081.4,969.4 1081.4,974.0" fill="#333"/>
<text x="947.0" y="964.0" font-size="24.0" textLength="15.0" lengthAdjust="spacingAndGlyphs" fill="#2e2e2e" stroke="#fff" stroke-width="0.35"  font-weight="normal">L</text>
<line x1="698.0" y1="837.0" x2="698.0" y2="1006.0" stroke="#969696" stroke-width="1.25" />
<line x1="782.7" y1="880.0" x2="782.7" y2="1006.0" stroke="#969696" stroke-width="1.25" />
<line x1="818.0" y1="964.0" x2="818.0" y2="1025.0" stroke="#969696" stroke-width="1.25" />
<line x1="1094.4" y1="964.0" x2="1094.4" y2="1022.0" stroke="#969696" stroke-width="1.25" />
<line x1="1130.0" y1="921.0" x2="1130.0" y2="1021.0" stroke="#969696" stroke-width="1.25" />
<line x1="1144.8" y1="880.0" x2="1144.8" y2="1007.0" stroke="#969696" stroke-width="1.25" />
<line x1="1214.6" y1="837.0" x2="1214.6" y2="1007.0" stroke="#969696" stroke-width="1.25" />
<line x1="425.8" y1="1025.0" x2="425.8" y2="1172.0" stroke="#969696" stroke-width="1.25" />
<line x1="419.0" y1="1025.0" x2="453.0" y2="1025.0" stroke="#969696" stroke-width="1.25" />
<line x1="419.0" y1="1172.0" x2="453.0" y2="1172.0" stroke="#969696" stroke-width="1.25" />
<polygon points="425.8,1026.0 423.5,1039.0 428.1,1039.0" fill="#333"/>
<polygon points="425.8,1171.0 423.5,1158.0 428.1,1158.0" fill="#333"/>
<text transform="translate(417.6,1118.0) rotate(-90)" x="0" y="0" font-size="25.6" textLength="39.0" lengthAdjust="spacingAndGlyphs" fill="#2e2e2e" stroke="#fff" stroke-width="0.41">Sp.</text>
<rect x="467" y="1025.3" width="314" height="8.2" fill="url(#conc)" stroke="none"/>
<line x1="467.0" y1="1025.3" x2="781.0" y2="1025.3" stroke="#8a8a8a" stroke-width="1.3" />
<line x1="487.7" y1="1033.5" x2="781.0" y2="1033.5" stroke="#999" stroke-width="1.2" />
<path d="M479.7 1038.5 H776.7 q3 0 3 -2.5" fill="none" stroke="#666" stroke-width="1.4"/>
<path d="M485.8 1038.5 V1049.3 H509.3 L515.4 1042.6 H524 V1038.5" fill="none" stroke="#666" stroke-width="1.4"/>
<path d="M485.8 1049.3 V1053 L497.5 1055.5 V1098.6" fill="none" stroke="#555" stroke-width="1.4"/>
<path d="M467.5 1039 H485.8 V1053 L497 1055.5 V1098.6 H467.5 Z" fill="url(#plas)"/>
<path d="M480 1037 l5 0 l-2 5 z" fill="#333" stroke="#333" stroke-width="1.5"/>
<path d="M553 1040 L559.8 1049.4 H642.7 L647.3 1042.3 L658 1038.5 H686 L688.7 1042.3 H698 L702 1049.4 H782" fill="none" stroke="#555" stroke-width="1.5"/>
<line x1="745.0" y1="1049.4" x2="745.0" y2="1042.0" stroke="#555" stroke-width="1.2" />
<line x1="740.0" y1="1042.0" x2="750.0" y2="1042.0" stroke="#555" stroke-width="1.2" />
<circle cx="519" cy="1034" r="1.3" fill="#555"/><circle cx="527" cy="1034" r="1.3" fill="#555"/><circle cx="603" cy="1026" r="1.5" fill="#555"/><circle cx="654" cy="1040" r="1.6" fill="#444"/><circle cx="744" cy="1039" r="1.6" fill="#444"/>
<rect x="781" y="1023" width="37.5" height="25" fill="#fff" stroke="#888" stroke-width="1.1" rx="2"/>
<line x1="781.0" y1="1026.5" x2="818.0" y2="1026.5" stroke="#999" stroke-width="1" />
<line x1="781.0" y1="1031.0" x2="818.0" y2="1031.0" stroke="#999" stroke-width="1" />
<line x1="781.0" y1="1037.7" x2="818.0" y2="1037.7" stroke="#999" stroke-width="1" />
<line x1="781.0" y1="1043.0" x2="818.0" y2="1043.0" stroke="#999" stroke-width="1" />
<rect x="781" y="1038" width="20" height="6" fill="#999"/>
<line x1="781.0" y1="1023.0" x2="781.0" y2="1049.7" stroke="#666" stroke-width="1.3" />
<rect x="806.5" y="1037.7" width="5.8" height="12" fill="#1e1e1e"/>
<polygon points="809.3,1052 806.8,1066 811.8,1066" fill="#555"/>
<rect x="697.3" y="1006.3" width="114.7" height="16.7" fill="#e8e8e8" stroke="none" stroke-width="0" />
<rect x="697.3" y="1006.3" width="114.7" height="16.7" fill="url(#mdf)" stroke="#969696" stroke-width="1.1" />
<g transform="translate(0 2197.2) scale(1 -1)">
<rect x="467" y="1025.3" width="314" height="8.2" fill="url(#conc)" stroke="none"/>
<line x1="467.0" y1="1025.3" x2="781.0" y2="1025.3" stroke="#8a8a8a" stroke-width="1.3" />
<line x1="487.7" y1="1033.5" x2="781.0" y2="1033.5" stroke="#999" stroke-width="1.2" />
<path d="M479.7 1038.5 H776.7 q3 0 3 -2.5" fill="none" stroke="#b5b5b5" stroke-width="2.6"/>
<path d="M485.8 1038.5 V1049.3 H509.3 L515.4 1042.6 H524 V1038.5" fill="none" stroke="#b5b5b5" stroke-width="2.6"/>
<path d="M485.8 1049.3 V1053 L497.5 1055.5 V1098.6" fill="none" stroke="#555" stroke-width="1.4"/>
<path d="M467.5 1039 H485.8 V1053 L497 1055.5 V1098.6 H467.5 Z" fill="url(#plas)"/>
<path d="M480 1037 l5 0 l-2 5 z" fill="#333" stroke="#333" stroke-width="1.5"/>
<path d="M553 1040 L559.8 1049.4 H642.7 L647.3 1042.3 L658 1038.5 H686 L688.7 1042.3 H698 L702 1049.4 H782" fill="none" stroke="#b5b5b5" stroke-width="2.6"/>
<line x1="745.0" y1="1049.4" x2="745.0" y2="1042.0" stroke="#555" stroke-width="1.2" />
<line x1="740.0" y1="1042.0" x2="750.0" y2="1042.0" stroke="#555" stroke-width="1.2" />
<circle cx="519" cy="1034" r="1.3" fill="#555"/><circle cx="527" cy="1034" r="1.3" fill="#555"/><circle cx="603" cy="1026" r="1.5" fill="#555"/><circle cx="654" cy="1040" r="1.6" fill="#444"/><circle cx="744" cy="1039" r="1.6" fill="#444"/>
<rect x="781" y="1023" width="37.5" height="25" fill="#fff" stroke="#888" stroke-width="1.1" rx="2"/>
<line x1="781.0" y1="1026.5" x2="818.0" y2="1026.5" stroke="#999" stroke-width="1" />
<line x1="781.0" y1="1031.0" x2="818.0" y2="1031.0" stroke="#999" stroke-width="1" />
<line x1="781.0" y1="1037.7" x2="818.0" y2="1037.7" stroke="#999" stroke-width="1" />
<line x1="781.0" y1="1043.0" x2="818.0" y2="1043.0" stroke="#999" stroke-width="1" />
<rect x="781" y="1038" width="20" height="6" fill="#999"/>
<line x1="781.0" y1="1023.0" x2="781.0" y2="1049.7" stroke="#666" stroke-width="1.3" />
<rect x="806.5" y="1037.7" width="5.8" height="12" fill="#1e1e1e"/>
<polygon points="809.3,1052 806.8,1066 811.8,1066" fill="#555"/>
<rect x="697.3" y="1006.3" width="114.7" height="16.7" fill="#e8e8e8" stroke="none" stroke-width="0" />
<rect x="697.3" y="1006.3" width="114.7" height="16.7" fill="url(#mdf)" stroke="#969696" stroke-width="1.1" />
</g>
<line x1="466" y1="1015" x2="466" y2="1185" stroke="#999" stroke-width="1.2" stroke-dasharray="8,3,1,3"/>
<rect x="541.0" y="1003.0" width="12.0" height="206.0" fill="#fff" stroke="none" stroke-width="0" />
<line x1="540" y1="1003" x2="540" y2="1208" stroke="#999" stroke-width="1.2" stroke-dasharray="8,3,1,3"/>
<line x1="553" y1="1003" x2="553" y2="1208" stroke="#999" stroke-width="1.2" stroke-dasharray="8,3,1,3"/>
<path d="M526 1092 L545 1106 L543 1109 L560 1120" fill="none" stroke="#aaa" stroke-width="1.1"/>
<path d="M537 1087 L555 1101 L553 1104 L568 1116" fill="none" stroke="#aaa" stroke-width="1.1"/>
<rect x="797.0" y="1071.0" width="181.7" height="7.0" fill="#e8e8e8" stroke="none" stroke-width="0" />
<rect x="797.0" y="1071.0" width="181.7" height="7.0" fill="url(#mdf)" stroke="#969696" stroke-width="1.1" />
<rect x="797.0" y="1121.0" width="181.7" height="7.0" fill="#e8e8e8" stroke="none" stroke-width="0" />
<rect x="797.0" y="1121.0" width="181.7" height="7.0" fill="url(#mdf)" stroke="#969696" stroke-width="1.1" />
<rect x="991.6" y="1071.0" width="112.0" height="7.0" fill="#e8e8e8" stroke="none" stroke-width="0" />
<rect x="991.6" y="1071.0" width="112.0" height="7.0" fill="url(#mdf)" stroke="#969696" stroke-width="1.1" />
<rect x="991.6" y="1121.0" width="112.0" height="7.0" fill="#e8e8e8" stroke="none" stroke-width="0" />
<rect x="991.6" y="1121.0" width="112.0" height="7.0" fill="url(#mdf)" stroke="#969696" stroke-width="1.1" />
<rect x="797.0" y="1078.0" width="41.0" height="43.0" fill="#fff" stroke="#777" stroke-width="1.1" />
<g clip-path="url(#clip31)"><polyline points="798.7,1078.0 798.4,1081.1 798.1,1084.1 798.1,1087.2 798.2,1090.3 798.6,1093.4 799.1,1096.4 799.6,1099.5 799.9,1102.6 800.0,1105.6 800.0,1108.7 799.9,1111.8 799.8,1114.9 799.7,1117.9 799.6,1121.0" fill="none" stroke="#a0a0a0" stroke-width="0.8"/><polyline points="806.3,1078.0 806.9,1081.1 807.4,1084.1 807.6,1087.2 807.5,1090.3 807.0,1093.4 806.4,1096.4 805.8,1099.5 805.3,1102.6 805.0,1105.6 804.7,1108.7 804.5,1111.8 804.4,1114.9 804.3,1117.9 804.2,1121.0" fill="none" stroke="#a0a0a0" stroke-width="0.8"/><polyline points="811.0,1078.0 811.2,1081.1 811.4,1084.1 811.4,1087.2 811.3,1090.3 810.9,1093.4 810.4,1096.4 810.0,1099.5 809.7,1102.6 809.4,1105.6 809.3,1108.7 809.2,1111.8 809.2,1114.9 809.2,1117.9 809.2,1121.0" fill="none" stroke="#a0a0a0" stroke-width="0.8"/><polyline points="815.2,1078.0 815.1,1081.1 815.1,1084.1 815.0,1087.2 814.9,1090.3 814.7,1093.4 814.6,1096.4 814.4,1099.5 814.4,1102.6 814.4,1105.6 814.4,1108.7 814.5,1111.8 814.6,1114.9 814.7,1117.9 814.8,1121.0" fill="none" stroke="#a0a0a0" stroke-width="0.8"/><polyline points="819.6,1078.0 819.5,1081.1 819.5,1084.1 819.5,1087.2 819.5,1090.3 819.5,1093.4 819.6,1096.4 819.7,1099.5 819.8,1102.6 819.9,1105.6 820.0,1108.7 820.2,1111.8 820.3,1114.9 820.4,1117.9 820.5,1121.0" fill="none" stroke="#a0a0a0" stroke-width="0.8"/><polyline points="824.6,1078.0 824.6,1081.1 824.7,1084.1 824.8,1087.2 824.9,1090.3 825.1,1093.4 825.2,1096.4 825.4,1099.5 825.5,1102.6 825.6,1105.6 825.7,1108.7 825.8,1111.8 825.8,1114.9 825.8,1117.9 825.8,1121.0" fill="none" stroke="#a0a0a0" stroke-width="0.8"/><polyline points="830.1,1078.0 830.3,1081.1 830.4,1084.1 830.5,1087.2 830.7,1090.3 830.8,1093.4 830.9,1096.4 830.9,1099.5 830.9,1102.6 830.9,1105.6 830.9,1108.7 830.8,1111.8 830.7,1114.9 830.6,1117.9 830.5,1121.0" fill="none" stroke="#a0a0a0" stroke-width="0.8"/><polyline points="835.8,1078.0 835.9,1081.1 836.0,1084.1 836.1,1087.2 836.1,1090.3 836.0,1093.4 836.0,1096.4 835.9,1099.5 835.8,1102.6 835.7,1105.6 835.6,1108.7 835.4,1111.8 835.3,1114.9 835.2,1117.9 835.0,1121.0" fill="none" stroke="#a0a0a0" stroke-width="0.8"/><ellipse cx="803.5" cy="1087.8" rx="2.8" ry="6.1" fill="#fff" stroke="#a0a0a0" stroke-width="0.8"/><ellipse cx="803.5" cy="1087.8" rx="1.3" ry="3.4" fill="none" stroke="#a0a0a0" stroke-width="0.8"/></g>
<rect x="1062.0" y="1078.0" width="41.5" height="43.0" fill="#fff" stroke="#777" stroke-width="1.1" />
<g clip-path="url(#clip32)"><polyline points="1064.2,1078.0 1064.0,1081.1 1063.9,1084.1 1063.7,1087.2 1063.7,1090.3 1063.8,1093.4 1064.1,1096.4 1064.4,1099.5 1064.7,1102.6 1064.9,1105.6 1064.9,1108.7 1064.9,1111.8 1064.9,1114.9 1064.7,1117.9 1064.6,1121.0" fill="none" stroke="#a0a0a0" stroke-width="0.8"/><polyline points="1069.6,1078.0 1069.2,1081.1 1068.7,1084.1 1068.3,1087.2 1068.1,1090.3 1068.1,1093.4 1068.4,1096.4 1068.8,1099.5 1069.1,1102.6 1069.4,1105.6 1069.5,1108.7 1069.5,1111.8 1069.4,1114.9 1069.3,1117.9 1069.3,1121.0" fill="none" stroke="#a0a0a0" stroke-width="0.8"/><polyline points="1076.1,1078.0 1076.3,1081.1 1076.6,1084.1 1076.8,1087.2 1076.8,1090.3 1076.6,1093.4 1076.2,1096.4 1075.7,1099.5 1075.3,1102.6 1074.9,1105.6 1074.6,1108.7 1074.5,1111.8 1074.4,1114.9 1074.4,1117.9 1074.4,1121.0" fill="none" stroke="#a0a0a0" stroke-width="0.8"/><polyline points="1080.4,1078.0 1080.4,1081.1 1080.4,1084.1 1080.4,1087.2 1080.3,1090.3 1080.2,1093.4 1080.0,1096.4 1079.9,1099.5 1079.8,1102.6 1079.7,1105.6 1079.7,1108.7 1079.7,1111.8 1079.8,1114.9 1079.9,1117.9 1080.0,1121.0" fill="none" stroke="#a0a0a0" stroke-width="0.8"/><polyline points="1084.9,1078.0 1084.8,1081.1 1084.8,1084.1 1084.8,1087.2 1084.8,1090.3 1084.9,1093.4 1084.9,1096.4 1085.0,1099.5 1085.1,1102.6 1085.2,1105.6 1085.3,1108.7 1085.4,1111.8 1085.6,1114.9 1085.7,1117.9 1085.8,1121.0" fill="none" stroke="#a0a0a0" stroke-width="0.8"/><polyline points="1089.9,1078.0 1090.0,1081.1 1090.1,1084.1 1090.2,1087.2 1090.3,1090.3 1090.4,1093.4 1090.6,1096.4 1090.7,1099.5 1090.8,1102.6 1090.9,1105.6 1091.0,1108.7 1091.1,1111.8 1091.1,1114.9 1091.2,1117.9 1091.1,1121.0" fill="none" stroke="#a0a0a0" stroke-width="0.8"/><polyline points="1095.5,1078.0 1095.7,1081.1 1095.8,1084.1 1096.0,1087.2 1096.1,1090.3 1096.2,1093.4 1096.3,1096.4 1096.3,1099.5 1096.3,1102.6 1096.3,1105.6 1096.3,1108.7 1096.2,1111.8 1096.2,1114.9 1096.0,1117.9 1095.9,1121.0" fill="none" stroke="#a0a0a0" stroke-width="0.8"/><polyline points="1101.3,1078.0 1101.4,1081.1 1101.5,1084.1 1101.5,1087.2 1101.5,1090.3 1101.5,1093.4 1101.5,1096.4 1101.4,1099.5 1101.3,1102.6 1101.2,1105.6 1101.0,1108.7 1100.9,1111.8 1100.8,1114.9 1100.6,1117.9 1100.5,1121.0" fill="none" stroke="#a0a0a0" stroke-width="0.8"/><ellipse cx="1070.5" cy="1090.9" rx="2.7" ry="6.6" fill="#fff" stroke="#a0a0a0" stroke-width="0.8"/><ellipse cx="1070.5" cy="1090.9" rx="1.2" ry="3.6" fill="none" stroke="#a0a0a0" stroke-width="0.8"/></g>
<line x1="852.0" y1="1078.0" x2="852.0" y2="1121.0" stroke="#999" stroke-width="1" />
<line x1="866.5" y1="1078.0" x2="866.5" y2="1121.0" stroke="#999" stroke-width="1" />
<line x1="881.0" y1="1078.0" x2="881.0" y2="1121.0" stroke="#999" stroke-width="1" />
<line x1="895.5" y1="1078.0" x2="895.5" y2="1121.0" stroke="#999" stroke-width="1" />
<line x1="910.0" y1="1078.0" x2="910.0" y2="1121.0" stroke="#999" stroke-width="1" />
<line x1="924.5" y1="1078.0" x2="924.5" y2="1121.0" stroke="#999" stroke-width="1" />
<line x1="939.0" y1="1078.0" x2="939.0" y2="1121.0" stroke="#999" stroke-width="1" />
<line x1="953.5" y1="1078.0" x2="953.5" y2="1121.0" stroke="#999" stroke-width="1" />
<line x1="968.0" y1="1078.0" x2="968.0" y2="1121.0" stroke="#999" stroke-width="1" />
<line x1="997.0" y1="1078.0" x2="997.0" y2="1121.0" stroke="#999" stroke-width="1" />
<line x1="1011.5" y1="1078.0" x2="1011.5" y2="1121.0" stroke="#999" stroke-width="1" />
<line x1="1026.0" y1="1078.0" x2="1026.0" y2="1121.0" stroke="#999" stroke-width="1" />
<line x1="1040.5" y1="1078.0" x2="1040.5" y2="1121.0" stroke="#999" stroke-width="1" />
<line x1="1055.0" y1="1078.0" x2="1055.0" y2="1121.0" stroke="#999" stroke-width="1" />
<line x1="838.0" y1="1078.0" x2="978.0" y2="1078.0" stroke="#777" stroke-width="1.25" />
<line x1="991.6" y1="1078.0" x2="1062.0" y2="1078.0" stroke="#777" stroke-width="1.25" />
<line x1="838.0" y1="1121.0" x2="978.0" y2="1121.0" stroke="#777" stroke-width="1.25" />
<line x1="991.6" y1="1121.0" x2="1062.0" y2="1121.0" stroke="#777" stroke-width="1.25" />
<line x1="797.0" y1="1071.0" x2="797.0" y2="1128.0" stroke="#555" stroke-width="1.4" />
<rect x="979.0" y="1068.0" width="12.6" height="64.0" fill="#fff" stroke="none" stroke-width="0" />
<line x1="978.7" y1="1054" x2="978.7" y2="1143" stroke="#999" stroke-width="1" stroke-dasharray="7,3,1,3"/>
<line x1="991.6" y1="1054" x2="991.6" y2="1143" stroke="#999" stroke-width="1" stroke-dasharray="7,3,1,3"/>
<path d="M964 1084 L980 1097 L978 1100 L996 1113" fill="none" stroke="#999" stroke-width="1.1"/>
<path d="M975 1083 L990 1095 L988 1098 L1006 1111" fill="none" stroke="#999" stroke-width="1.1"/>
<path d="M797 1084 H786 Q782 1086 782 1092 V1106 Q782 1112 786 1113 H797 Z" fill="#1e1e1e"/>
<line x1="877.5" y1="1071.0" x2="877.5" y2="1128.0" stroke="#555" stroke-width="1" />
<polygon points="877.5,1071.5 875.1,1083.5 879.9,1083.5" fill="#333"/>
<polygon points="877.5,1127.5 875.1,1115.5 879.9,1115.5" fill="#333"/>
<text transform="translate(872.0,1115.0) rotate(-90)" x="0" y="0" font-size="33.4" textLength="32.0" lengthAdjust="spacingAndGlyphs" fill="#2e2e2e" stroke="#fff" stroke-width="0.68">40</text>
<path d="M1225.3 960.7 C1240 962 1255 968 1273 969.3 C1290 969 1296 960 1306.7 960 C1320 960 1332 969.3 1344 969.3 C1356 969 1365 963 1374.5 962 V1284.7 C1362 1280 1350 1272 1338.7 1272 C1325 1272 1315 1283 1300 1283.3 C1285 1283 1276 1274 1264 1274 C1250 1274 1238 1282 1225.3 1284.7 V1174 H1172.4 V1024.7 H1225.3 Z" fill="#fff" stroke="#888" stroke-width="1.1"/>
<path d="M1225.3 960.7 C1240 962 1255 968 1273 969.3 C1290 969 1296 960 1306.7 960 C1320 960 1332 969.3 1344 969.3 C1356 969 1365 963 1374.5 962 V1284.7 C1362 1280 1350 1272 1338.7 1272 C1325 1272 1315 1283 1300 1283.3 C1285 1283 1276 1274 1264 1274 C1250 1274 1238 1282 1225.3 1284.7 V1174 H1172.4 V1024.7 H1225.3 Z" fill="url(#wallp)" stroke="none"/>
<rect x="1100.4" y="1007.0" width="114.0" height="17.0" fill="#e8e8e8" stroke="none" stroke-width="0" />
<rect x="1100.4" y="1007.0" width="114.0" height="17.0" fill="url(#mdf)" stroke="#969696" stroke-width="1.1" />
<rect x="1100.4" y="1174.0" width="114.0" height="18.0" fill="#e8e8e8" stroke="none" stroke-width="0" />
<rect x="1100.4" y="1174.0" width="114.0" height="18.0" fill="url(#mdf)" stroke="#969696" stroke-width="1.1" />
<path d="M1093.3 1022 H1129.2 V1174 H1093.3 V1134 H1106.6 V1063 H1093.3 Z" fill="#e6e6e6" stroke="#777" stroke-width="1.1"/>
<path d="M1093.3 1022 H1129.2 V1174 H1093.3 V1134 H1106.6 V1063 H1093.3 Z" fill="url(#mdf)" stroke="none"/>
<line x1="1106.6" y1="1062.5" x2="1129.0" y2="1062.5" stroke="#555" stroke-width="1.2" />
<line x1="1106.6" y1="1134.5" x2="1129.0" y2="1134.5" stroke="#555" stroke-width="1.2" />
<path d="M1093.3 1062 h23.7 v4 h-9 v9 h-3.5 v-9 h-11.2 z M1093.3 1135 h23.7 v-4 h-9 v-9 h-3.5 v9 h-11.2 z" fill="#222"/>
<rect x="1144.8" y="1023.0" width="27.6" height="151.0" fill="#fff" stroke="#777" stroke-width="1.1" />
<g clip-path="url(#firend)" fill="none" stroke="#a0a0a0" stroke-width="0.9"><circle cx="1174" cy="1099" r="9"/><circle cx="1174" cy="1099" r="18"/><circle cx="1174" cy="1099" r="27"/><circle cx="1174" cy="1099" r="36"/><circle cx="1174" cy="1099" r="45"/><circle cx="1174" cy="1099" r="54"/><circle cx="1174" cy="1099" r="63"/><circle cx="1174" cy="1099" r="72"/><circle cx="1174" cy="1099" r="81"/><line x1="1158" y1="1023" x2="1158" y2="1174"/></g>
<path d="M1129.2 1024 H1144.8 V1174 H1140 Q1131 1174 1130 1160 V1040 Q1131 1026 1142 1024" fill="#fff" stroke="#555" stroke-width="1.3"/>
<line x1="797.0" y1="1128.0" x2="797.0" y2="1243.0" stroke="#969696" stroke-width="1.25" />
<line x1="1102.8" y1="1192.0" x2="1102.8" y2="1243.0" stroke="#969696" stroke-width="1.25" />
<line x1="797.0" y1="1237.0" x2="1103.5" y2="1237.0" stroke="#969696" stroke-width="1.25" />
<polygon points="797.0,1237.0 810.0,1234.7 810.0,1239.3" fill="#333"/>
<polygon points="1102.8,1237.0 1089.8,1234.7 1089.8,1239.3" fill="#333"/>
<text x="899.0" y="1230.7" font-size="33.4" textLength="97.7" lengthAdjust="spacingAndGlyphs" fill="#2e2e2e" stroke="#fff" stroke-width="0.68"  font-weight="normal">L4=L+30</text>
<line x1="1144.8" y1="1192.0" x2="1144.8" y2="1245.0" stroke="#969696" stroke-width="1.25" />
<line x1="1145.0" y1="1238.0" x2="1224.6" y2="1238.0" stroke="#969696" stroke-width="1.25" />
<polygon points="1145.0,1238.0 1158.0,1235.7 1158.0,1240.3" fill="#333"/>
<polygon points="1224.6,1238.0 1211.6,1235.7 1211.6,1240.3" fill="#333"/>
<text x="1143.0" y="1232.0" font-size="33.4" textLength="82.0" lengthAdjust="spacingAndGlyphs" fill="#2e2e2e" stroke="#fff" stroke-width="0.68"  font-weight="normal">Min.60</text>
<rect x="91.7" y="1363.0" width="83.3" height="34.0" fill="#e8e8e8" stroke="none" stroke-width="0" />
<rect x="91.7" y="1363.0" width="83.3" height="34.0" fill="url(#mdf)" stroke="#969696" stroke-width="1.1" />
<text x="188.0" y="1390.0" font-size="26.2" textLength="49.0" lengthAdjust="spacingAndGlyphs" fill="#2e2e2e" stroke="#fff" stroke-width="0.43"  font-weight="normal">MDF</text>
<rect x="291.7" y="1363.0" width="86.0" height="34.0" fill="#fff" stroke="#999" stroke-width="1.1" />
<line x1="291.7" y1="1367.0" x2="377.7" y2="1367.0" stroke="#aaa" stroke-width="1" />
<line x1="291.7" y1="1371.2" x2="377.7" y2="1371.2" stroke="#aaa" stroke-width="1" />
<line x1="291.7" y1="1375.4" x2="377.7" y2="1375.4" stroke="#aaa" stroke-width="1" />
<line x1="291.7" y1="1379.6" x2="377.7" y2="1379.6" stroke="#aaa" stroke-width="1" />
<line x1="291.7" y1="1383.8" x2="377.7" y2="1383.8" stroke="#aaa" stroke-width="1" />
<line x1="291.7" y1="1388.0" x2="377.7" y2="1388.0" stroke="#aaa" stroke-width="1" />
<line x1="291.7" y1="1392.2" x2="377.7" y2="1392.2" stroke="#aaa" stroke-width="1" />
<line x1="291.7" y1="1396.4" x2="377.7" y2="1396.4" stroke="#aaa" stroke-width="1" />
<text x="391.0" y="1376.0" font-size="24.7" textLength="132.7" lengthAdjust="spacingAndGlyphs" fill="#2e2e2e" stroke="#fff" stroke-width="0.37"  font-weight="normal">MULTISTRATO</text>
<text x="391.0" y="1402.0" font-size="24.7" textLength="109.0" lengthAdjust="spacingAndGlyphs" fill="#2e2e2e" stroke="#fff" stroke-width="0.37" font-style="italic" font-weight="normal">PLYWOOD</text>
<rect x="579.0" y="1363.0" width="85.0" height="34.0" fill="#fff" stroke="#999" stroke-width="1.1" />
<g clip-path="url(#firsw)" stroke="#aaa" stroke-width="1"><line x1="561" y1="1397" x2="574" y2="1363"/><line x1="567" y1="1397" x2="580" y2="1363"/><line x1="573" y1="1397" x2="586" y2="1363"/><line x1="579" y1="1397" x2="592" y2="1363"/><line x1="585" y1="1397" x2="598" y2="1363"/><line x1="591" y1="1397" x2="604" y2="1363"/><line x1="597" y1="1397" x2="610" y2="1363"/><line x1="603" y1="1397" x2="616" y2="1363"/><line x1="609" y1="1397" x2="622" y2="1363"/><line x1="615" y1="1397" x2="628" y2="1363"/><line x1="621" y1="1397" x2="634" y2="1363"/><line x1="627" y1="1397" x2="640" y2="1363"/><line x1="622" y1="1363" x2="630" y2="1397"/><line x1="628" y1="1363" x2="636" y2="1397"/><line x1="634" y1="1363" x2="642" y2="1397"/><line x1="640" y1="1363" x2="648" y2="1397"/><line x1="646" y1="1363" x2="654" y2="1397"/><line x1="652" y1="1363" x2="660" y2="1397"/><line x1="658" y1="1363" x2="666" y2="1397"/></g>
<text x="677.0" y="1376.0" font-size="24.7" textLength="172.0" lengthAdjust="spacingAndGlyphs" fill="#2e2e2e" stroke="#fff" stroke-width="0.37"  font-weight="normal">ABETE GIUNTATO</text>
<text x="677.0" y="1402.0" font-size="24.7" textLength="123.0" lengthAdjust="spacingAndGlyphs" fill="#2e2e2e" stroke="#fff" stroke-width="0.37" font-style="italic" font-weight="normal">JOINTED FIR</text>
<rect x="891.0" y="1363.0" width="86.0" height="34.0" fill="#fff" stroke="#999" stroke-width="1.1" />
<line x1="908.2" y1="1363.0" x2="908.2" y2="1397.0" stroke="#999" stroke-width="1" />
<line x1="925.4" y1="1363.0" x2="925.4" y2="1397.0" stroke="#999" stroke-width="1" />
<line x1="942.6" y1="1363.0" x2="942.6" y2="1397.0" stroke="#999" stroke-width="1" />
<line x1="959.8" y1="1363.0" x2="959.8" y2="1397.0" stroke="#999" stroke-width="1" />
<text x="988.0" y="1375.0" font-size="22.4" textLength="380.8" lengthAdjust="spacingAndGlyphs" fill="#2e2e2e" stroke="#fff" stroke-width="0.29"  font-weight="normal">STRUTTURA ALVEOLARE A NIDO D&#8217;APE</text>
<text x="988.0" y="1400.0" font-size="26.2" textLength="421.5" lengthAdjust="spacingAndGlyphs" fill="#2e2e2e" stroke="#fff" stroke-width="0.43" font-style="italic" font-weight="normal">HONEYCOMB HOLLOW-CORE STRUCTURE</text>

</svg>
</body></html>
